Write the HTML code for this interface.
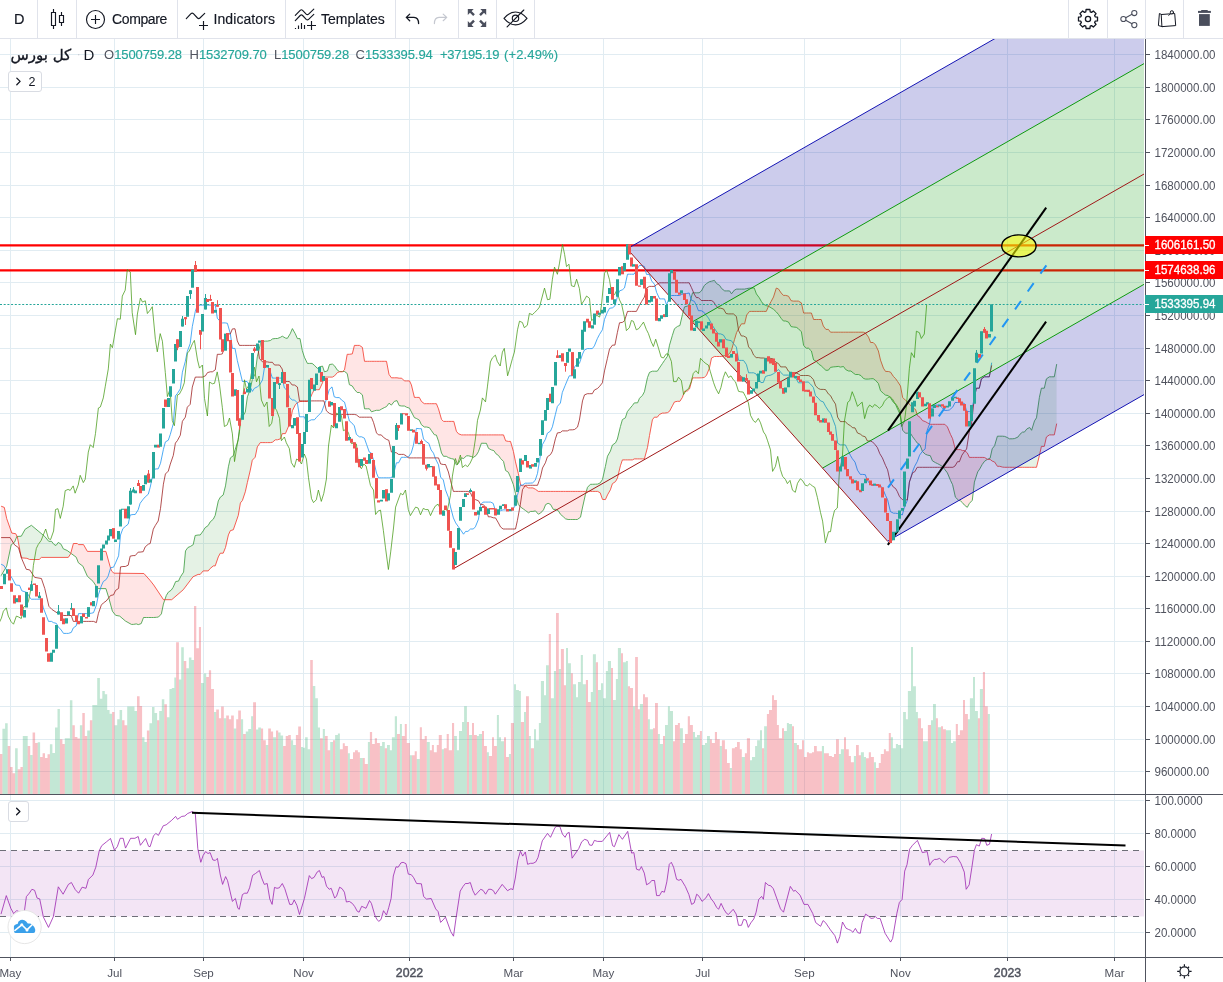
<!DOCTYPE html>
<html lang="en">
<head>
<meta charset="utf-8">
<title>Chart</title>
<style>
html,body{margin:0;padding:0;background:#fff;}
body{width:1223px;height:982px;overflow:hidden;position:relative;font-family:"Liberation Sans",sans-serif;color:#131722;}
.chart{position:absolute;left:0;top:0;display:block;}
.toolbar{position:absolute;left:0;top:0;width:1223px;height:38px;border-bottom:1px solid #e0e3eb;background:#fff;z-index:2;}
.toolbar .sep{position:absolute;top:0;width:1px;height:38px;background:#e0e3eb;}
.toolbar .lbl{position:absolute;top:0.5px;line-height:37px;font-size:14px;color:#131722;white-space:nowrap;-webkit-text-stroke:0.15px #131722;}
.toolbar svg{position:absolute;overflow:visible;}
.legend{position:absolute;left:0;top:39px;z-index:2;white-space:nowrap;}
.legend span{position:absolute;white-space:nowrap;}
.legend .v{position:static;color:#26a69a;letter-spacing:-0.09px;-webkit-text-stroke:0.15px #26a69a;}
.btn{position:absolute;box-sizing:border-box;border:1px solid #d9dce3;border-radius:3px;background:#fff;z-index:2;}
</style>
</head>
<body>
<svg class="chart" width="1223" height="982" viewBox="0 0 1223 982">
<defs><clipPath id="p1"><rect x="0" y="39" width="1144" height="755"/></clipPath><clipPath id="p2"><rect x="0" y="795" width="1144" height="162"/></clipPath></defs>
<g stroke="#e1ecf2" stroke-width="1" shape-rendering="crispEdges"><line x1="10.5" y1="39" x2="10.5" y2="794"/><line x1="10.5" y1="795" x2="10.5" y2="957"/><line x1="114.5" y1="39" x2="114.5" y2="794"/><line x1="114.5" y1="795" x2="114.5" y2="957"/><line x1="203.5" y1="39" x2="203.5" y2="794"/><line x1="203.5" y1="795" x2="203.5" y2="957"/><line x1="303.5" y1="39" x2="303.5" y2="794"/><line x1="303.5" y1="795" x2="303.5" y2="957"/><line x1="409.5" y1="39" x2="409.5" y2="794"/><line x1="409.5" y1="795" x2="409.5" y2="957"/><line x1="513.5" y1="39" x2="513.5" y2="794"/><line x1="513.5" y1="795" x2="513.5" y2="957"/><line x1="603.5" y1="39" x2="603.5" y2="794"/><line x1="603.5" y1="795" x2="603.5" y2="957"/><line x1="702.5" y1="39" x2="702.5" y2="794"/><line x1="702.5" y1="795" x2="702.5" y2="957"/><line x1="804.5" y1="39" x2="804.5" y2="794"/><line x1="804.5" y1="795" x2="804.5" y2="957"/><line x1="900.5" y1="39" x2="900.5" y2="794"/><line x1="900.5" y1="795" x2="900.5" y2="957"/><line x1="1007.5" y1="39" x2="1007.5" y2="794"/><line x1="1007.5" y1="795" x2="1007.5" y2="957"/><line x1="1114.5" y1="39" x2="1114.5" y2="794"/><line x1="1114.5" y1="795" x2="1114.5" y2="957"/><line x1="0" y1="54.5" x2="1144" y2="54.5"/><line x1="0" y1="87.5" x2="1144" y2="87.5"/><line x1="0" y1="119.5" x2="1144" y2="119.5"/><line x1="0" y1="152.5" x2="1144" y2="152.5"/><line x1="0" y1="185.5" x2="1144" y2="185.5"/><line x1="0" y1="217.5" x2="1144" y2="217.5"/><line x1="0" y1="250.5" x2="1144" y2="250.5"/><line x1="0" y1="282.5" x2="1144" y2="282.5"/><line x1="0" y1="315.5" x2="1144" y2="315.5"/><line x1="0" y1="348.5" x2="1144" y2="348.5"/><line x1="0" y1="380.5" x2="1144" y2="380.5"/><line x1="0" y1="413.5" x2="1144" y2="413.5"/><line x1="0" y1="445.5" x2="1144" y2="445.5"/><line x1="0" y1="478.5" x2="1144" y2="478.5"/><line x1="0" y1="511.5" x2="1144" y2="511.5"/><line x1="0" y1="543.5" x2="1144" y2="543.5"/><line x1="0" y1="576.5" x2="1144" y2="576.5"/><line x1="0" y1="608.5" x2="1144" y2="608.5"/><line x1="0" y1="641.5" x2="1144" y2="641.5"/><line x1="0" y1="673.5" x2="1144" y2="673.5"/><line x1="0" y1="706.5" x2="1144" y2="706.5"/><line x1="0" y1="739.5" x2="1144" y2="739.5"/><line x1="0" y1="771.5" x2="1144" y2="771.5"/><line x1="0" y1="800.5" x2="1144" y2="800.5"/><line x1="0" y1="833.5" x2="1144" y2="833.5"/><line x1="0" y1="866.5" x2="1144" y2="866.5"/><line x1="0" y1="899.5" x2="1144" y2="899.5"/><line x1="0" y1="932.5" x2="1144" y2="932.5"/></g>
<g clip-path="url(#p1)">
<path d="M2.4 728.8H5.1V794H2.4ZM5.1 723.3H7.7V794H5.1ZM15.1 748.2H17.7V794H15.1ZM22.8 736.1H25.3V794H22.8ZM25.3 736.1H27.7V794H25.3ZM30.2 754.9H32.6V794H30.2ZM37.7 742.3H40.1V794H37.7ZM49.9 744.3H52.4V794H49.9ZM52.4 752.9H55V794H52.4ZM55 727.4H57.5V794H55ZM57.5 709H59.9V794H57.5ZM64.8 738.2H67.5V794H64.8ZM67.5 738.2H69.9V794H67.5ZM69.9 700.3H72.4V794H69.9ZM79.9 725.3H82.3V794H79.9ZM87.2 730.4H89.9V794H87.2ZM92.3 705H94.8V794H92.3ZM94.8 705H97.2V794H94.8ZM97.2 678.1H99.9V794H97.2ZM99.9 698.8H102.3V794H99.9ZM102.3 691.1H104.8V794H102.3ZM104.8 694.2H107.2V794H104.8ZM107.2 710.1H109.6V794H107.2ZM109.6 713.7H112.1V794H109.6ZM114.5 725.3H117.2V794H114.5ZM117.2 719.2H119.6V794H117.2ZM119.6 710.1H122.1V794H119.6ZM127.2 706.4H129.6V794H127.2ZM129.6 706.4H132.1V794H129.6ZM132.1 706.4H134.5V794H132.1ZM134.5 711.1H137V794H134.5ZM142.1 737.2H144.5V794H142.1ZM144.5 742.1H146.9V794H144.5ZM149.4 723.3H150V794H149.4ZM150 723.3H152V794H150ZM152 707H154.5V794H152ZM154.5 713.1H157.1V794H154.5ZM159.2 711.1H161.8V794H159.2ZM161.8 699.3H164.3V794H161.8ZM166.9 717.2H169.4V794H166.9ZM169.4 689.1H171.8V794H169.4ZM171.8 688H174.3V794H171.8ZM174.3 677.4H176.1V794H174.3ZM178.9 679.5H181.2V794H178.9ZM181.2 647.3H183.8V794H181.2ZM186.3 668.3H188.9V794H186.3ZM188.9 657.5H191.4V794H188.9ZM191.4 660.1H194V794H191.4ZM201 682.9H203.8V794H201ZM203.8 673.4H206.2V794H203.8ZM214 712.1H216.2V794H214ZM223.8 718.2H226.2V794H223.8ZM233.8 728.4H236.2V794H233.8ZM240.9 719.2H243.1V794H240.9ZM245.8 731.5H248.2V794H245.8ZM248.2 729H251.1V794H248.2ZM251.1 716.2H253.1V794H251.1ZM256 729.4H258.2V794H256ZM258.2 727.4H260.9V794H258.2ZM265.8 745.1H268.2V794H265.8ZM273.1 737.2H276V794H273.1ZM278.2 732.5H280.6V794H278.2ZM280.6 735.5H283.1V794H280.6ZM290.8 740.2H293.1V794H290.8ZM293.1 745.1H295.9V794H293.1ZM301 747.1H303.1V794H301ZM303.1 747.8H305.1V794H303.1ZM305.1 737.2H307.7V794H305.1ZM307.7 749.2H310.2V794H307.7ZM312.8 686H315.3V794H312.8ZM315.3 698.2H317.9V794H315.3ZM317.9 727.4H320V794H317.9ZM322.8 729H324.9V794H322.8ZM330.2 742.1H333V794H330.2ZM335.1 735.1H337.9V794H335.1ZM337.9 733.5H339.9V794H337.9ZM347.9 753.3H349.9V794H347.9ZM359.9 757.9H362.8V794H359.9ZM367.9 742.1H369.9V794H367.9ZM379.9 746.1H382.1V794H379.9ZM382.1 742.1H384.8V794H382.1ZM387 745.1H389.9V794H387ZM389.9 750.2H391.9V794H389.9ZM391.9 737.2H394.8V794H391.9ZM394.8 716.2H397V794H394.8ZM399.9 724.1H401.9V794H399.9ZM409.9 755.3H411.9V794H409.9ZM416.8 759H419.8V794H416.8ZM426.8 742.1H429.8V794H426.8ZM441.8 749.2H443.9V794H441.8ZM454.1 736.1H456.9V794H454.1ZM456.9 750.2H459V794H456.9ZM459 731H462V794H459ZM462 722.1H464.1V794H462ZM464.1 706.2H466.9V794H464.1ZM469 735.1H472V794H469ZM476.9 736.1H478.9V794H476.9ZM478.9 734.1H482V794H478.9ZM486.9 752.2H488.9V794H486.9ZM496.9 715.1H498.9V794H496.9ZM498.9 737.2H501V794H498.9ZM501 741.2H504V794H501ZM508.9 754.1H510.9V794H508.9ZM514 684.2H516V794H514ZM516 690.1H518.9V794H516ZM518.9 691.1H520.9V794H518.9ZM524 712.1H526V794H524ZM528.9 736.1H530.9V794H528.9ZM534 729.2H536V794H534ZM536 740.2H538.9V794H536ZM538.9 723.1H540.9V794H538.9ZM540.9 681.1H544V794H540.9ZM544 695.2H546V794H544ZM546 665.2H548.8V794H546ZM550.9 698.2H553.9V794H550.9ZM553.9 671.1H556V794H553.9ZM558.8 669.1H560.9V794H558.8ZM566 648.1H568V794H566ZM568 663.2H570.9V794H568ZM572.9 684.2H576V794H572.9ZM576 697.2H578V794H576ZM578 682.1H580.8V794H578ZM580.8 655H582.9V794H580.8ZM582.9 684.2H585.9V794H582.9ZM590.8 692.1H592.9V794H590.8ZM592.9 654.2H595.9V794H592.9ZM598 690.1H600V794H598ZM600 690.1H601V794H600ZM601 683.2H603.1V794H601ZM603.1 698.2H605.9V794H603.1ZM605.9 671.1H607.9V794H605.9ZM607.9 661.1H611V794H607.9ZM613 700.1H615.9V794H613ZM615.9 679.1H617.9V794H615.9ZM617.9 648.1H621V794H617.9ZM623 662.2H625.9V794H623ZM625.9 661.1H627.9V794H625.9ZM633 706.2H635.1V794H633ZM639.9 704.1H643V794H639.9ZM647.9 719.2H649.9V794H647.9ZM649.9 729.2H653V794H649.9ZM657.9 734.1H659.9V794H657.9ZM659.9 744.1H663V794H659.9ZM665 725.1H667.9V794H665ZM667.9 706.2H669.9V794H667.9ZM669.9 711.1H673V794H669.9ZM679.9 728.2H682.9V794H679.9ZM692.9 732.1H695V794H692.9ZM695 737.2H697V794H695ZM697 735.1H699.9V794H697ZM701.9 745.1H705V794H701.9ZM705 743.1H707V794H705ZM707 736.1H709.9V794H707ZM719.8 746.1H721.9V794H719.8ZM729.8 768.1H731.9V794H729.8ZM741.8 757.1H744.9V794H741.8ZM750 760.2H752V794H750ZM752 757.1H755.1V794H752ZM755.1 746.1H757.1V794H755.1ZM757.1 740.2H760V794H757.1ZM760 730.2H762V794H760ZM764.1 726.2H766.9V794H764.1ZM784 731H786.9V794H784ZM786.9 723.1H788.9V794H786.9ZM788.9 724.1H792V794H788.9ZM794 743.1H796.9V794H794ZM821.9 746.1H824V794H821.9ZM838.9 754.1H840.9V794H838.9ZM840.9 749.2H844V794H840.9ZM853.9 756.1H856V794H853.9ZM860.9 752.2H863.9V794H860.9ZM863.9 757.1H866V794H863.9ZM873.9 762.2H876V794H873.9ZM890.8 737.2H892.9V794H890.8ZM892.9 748.2H895.9V794H892.9ZM895.9 744.1H898V794H895.9ZM898 745.1H900V794H898ZM900 745.1H901V794H900ZM901 748.2H903.1V794H901ZM903.1 712.1H905.9V794H903.1ZM905.9 719.2H907.9V794H905.9ZM907.9 691.1H911V794H907.9ZM911 647.1H913V794H911ZM913 686.2H915.9V794H913ZM915.9 712.1H917.9V794H915.9ZM923 741.2H925.9V794H923ZM925.9 741.2H927.9V794H925.9ZM931 720.2H933V794H931ZM933 704.1H935.9V794H933ZM937.9 727.2H941V794H937.9ZM945.9 730.2H947.9V794H945.9ZM947.9 730.2H951V794H947.9ZM951 743.1H953V794H951ZM953 741.2H955.8V794H953ZM967.9 719.2H969.9V794H967.9ZM969.9 698.2H973V794H969.9ZM973 677H975V794H973ZM975 711.1H977.9V794H975ZM979.9 689.1H982.9V794H979.9ZM987.8 714.1H989.9V794H987.8Z" fill="rgba(83,185,135,0.35)"/>
<path d="M0 753.9H2.4V794H0ZM7.7 746.1H10.2V794H7.7ZM10.2 767.1H12.6V794H10.2ZM12.6 773.2H15.1V794H12.6ZM17.7 769.2H20.4V794H17.7ZM20.4 767.1H22.8V794H20.4ZM27.7 746.1H30.2V794H27.7ZM32.6 732.5H35.1V794H32.6ZM35.1 743.1H37.7V794H35.1ZM40.1 756.9H42.6V794H40.1ZM42.6 753.3H45V794H42.6ZM45 757.9H47.5V794H45ZM47.5 754.3H49.9V794H47.5ZM59.9 739.2H62.4V794H59.9ZM62.4 744.1H64.8V794H62.4ZM72.4 725.3H74.8V794H72.4ZM74.8 737H77.4V794H74.8ZM77.4 738.6H79.9V794H77.4ZM82.3 713.1H84.8V794H82.3ZM84.8 736.1H87.2V794H84.8ZM89.9 720.2H92.3V794H89.9ZM112.1 712.1H114.5V794H112.1ZM122.1 720.2H124.5V794H122.1ZM124.5 725.3H127.2V794H124.5ZM137 696.2H139.6V794H137ZM139.6 706H142.1V794H139.6ZM146.9 730.4H149.4V794H146.9ZM157.1 720.2H159.2V794H157.1ZM164.3 704.3H166.9V794H164.3ZM176.1 642.2H178.9V794H176.1ZM183.8 661.1H186.3V794H183.8ZM194 606.1H196.3V794H194ZM196.3 648.3H198.9V794H196.3ZM198.9 627.1H201V794H198.9ZM206.2 677H208.9V794H206.2ZM208.9 670.3H211.1V794H208.9ZM211.1 689.1H214V794H211.1ZM216.2 709.4H218.9V794H216.2ZM218.9 718.2H221.1V794H218.9ZM221.1 706.4H223.8V794H221.1ZM226.2 715.6H228.9V794H226.2ZM228.9 719.2H231.1V794H228.9ZM231.1 715.6H233.8V794H231.1ZM236.2 719.2H238.2V794H236.2ZM238.2 710.5H240.9V794H238.2ZM243.1 734.1H245.8V794H243.1ZM253.1 702.3H256V794H253.1ZM260.9 728.4H263.1V794H260.9ZM263.1 740.2H265.8V794H263.1ZM268.2 728.4H270.9V794H268.2ZM270.9 731.5H273.1V794H270.9ZM276 730.4H278.2V794H276ZM283.1 746.1H285.7V794H283.1ZM285.7 736.1H288.2V794H285.7ZM288.2 735.1H290.8V794H288.2ZM295.9 735.1H298.2V794H295.9ZM298.2 726.4H300V794H298.2ZM300 726.4H301V794H300ZM310.2 660.1H312.8V794H310.2ZM320 738.2H322.8V794H320ZM324.9 736.1H327.7V794H324.9ZM327.7 750.2H330.2V794H327.7ZM333 740.2H335.1V794H333ZM339.9 749.2H342.8V794H339.9ZM342.8 743.3H344.8V794H342.8ZM344.8 746.1H347.9V794H344.8ZM349.9 759H353V794H349.9ZM353 752.2H355V794H353ZM355 750.2H357.9V794H355ZM357.9 752.2H359.9V794H357.9ZM362.8 757.9H364.8V794H362.8ZM364.8 764.1H367.9V794H364.8ZM369.9 732.1H372.1V794H369.9ZM372.1 744.1H374.8V794H372.1ZM374.8 738.2H377V794H374.8ZM377 743.1H379.9V794H377ZM384.8 748.2H387V794H384.8ZM397 734.1H399.9V794H397ZM401.9 736.1H404.8V794H401.9ZM404.8 724.1H406.8V794H404.8ZM406.8 743.1H409.9V794H406.8ZM411.9 755.3H414.7V794H411.9ZM414.7 751.2H416.8V794H414.7ZM419.8 727.2H421.9V794H419.8ZM421.9 739.2H424.7V794H421.9ZM424.7 736.1H426.8V794H424.7ZM429.8 750.2H431.9V794H429.8ZM431.9 745.1H433.9V794H431.9ZM433.9 752.2H436.8V794H433.9ZM436.8 745.1H438.8V794H436.8ZM438.8 735.1H441.8V794H438.8ZM443.9 748.2H446.7V794H443.9ZM446.7 734.1H448.8V794H446.7ZM448.8 750.2H450V794H448.8ZM450 750.2H452V794H450ZM452 723.1H454.1V794H452ZM466.9 722.1H469V794H466.9ZM472 723.1H474V794H472ZM474 735.1H476.9V794H474ZM482 731H484V794H482ZM484 746.1H486.9V794H484ZM488.9 756.1H492V794H488.9ZM492 737.2H494V794H492ZM494 746.1H496.9V794H494ZM504 737.2H506V794H504ZM506 757.1H508.9V794H506ZM510.9 723.1H514V794H510.9ZM520.9 722.1H524V794H520.9ZM526 696.2H528.9V794H526ZM530.9 748.2H534V794H530.9ZM548.8 634H550.9V794H548.8ZM556 613H558.8V794H556ZM560.9 649.1H563.9V794H560.9ZM563.9 685.2H566V794H563.9ZM570.9 673.2H572.9V794H570.9ZM585.9 680.1H588V794H585.9ZM588 702.1H590.8V794H588ZM595.9 662.2H598V794H595.9ZM611 668.1H613V794H611ZM621 653.2H623V794H621ZM627.9 686.2H630V794H627.9ZM630 688H633V794H630ZM635.1 657.1H637.9V794H635.1ZM637.9 709.2H639.9V794H637.9ZM643 694.2H645V794H643ZM645 697.2H647.9V794H645ZM653 728.2H655V794H653ZM655 703.1H657.9V794H655ZM663 736.1H665V794H663ZM673 741.2H675V794H673ZM675 725.1H677.9V794H675ZM677.9 723.1H679.9V794H677.9ZM682.9 743.1H685V794H682.9ZM685 734.1H687.8V794H685ZM687.8 716.2H689.9V794H687.8ZM689.9 725.1H692.9V794H689.9ZM699.9 731H701.9V794H699.9ZM709.9 739.2H711.9V794H709.9ZM711.9 743.1H714.9V794H711.9ZM714.9 732.1H717V794H714.9ZM717 739.2H719.8V794H717ZM721.9 740.2H724.9V794H721.9ZM724.9 749.2H727V794H724.9ZM727 763H729.8V794H727ZM731.9 748.2H734.9V794H731.9ZM734.9 747.1H737V794H734.9ZM737 742.1H739.8V794H737ZM739.8 749.2H741.8V794H739.8ZM744.9 753.3H746.9V794H744.9ZM746.9 738.2H750V794H746.9ZM762 748.2H764.1V794H762ZM766.9 714.1H769V794H766.9ZM769 710.1H772V794H769ZM772 695.2H774V794H772ZM774 700.1H776.9V794H774ZM776.9 725.1H778.9V794H776.9ZM778.9 738.2H782V794H778.9ZM782 728.2H784V794H782ZM792 726.2H794V794H792ZM796.9 745.1H798.9V794H796.9ZM798.9 749.2H802V794H798.9ZM802 740.2H804V794H802ZM804 757.1H806.9V794H804ZM806.9 752.2H808.9V794H806.9ZM808.9 753.3H812V794H808.9ZM812 752.2H814V794H812ZM814 746.1H816.8V794H814ZM816.8 751.2H818.9V794H816.8ZM818.9 751.2H821.9V794H818.9ZM824 753.3H826.8V794H824ZM826.8 753.3H828.9V794H826.8ZM828.9 756.1H831.9V794H828.9ZM831.9 757.1H834V794H831.9ZM834 754.1H836V794H834ZM836 739.2H838.9V794H836ZM844 737.2H846V794H844ZM846 749.2H848.8V794H846ZM848.8 756.1H850.9V794H848.8ZM850.9 762.2H853.9V794H850.9ZM856 745.1H858.8V794H856ZM858.8 755.3H860.9V794H858.8ZM866 758.2H868.8V794H866ZM868.8 752.2H870.9V794H868.8ZM870.9 757.1H873.9V794H870.9ZM876 768.1H878.8V794H876ZM878.8 763H880.8V794H878.8ZM880.8 754.1H883.9V794H880.8ZM883.9 749.2H885.9V794H883.9ZM885.9 751.2H888.8V794H885.9ZM888.8 733.1H890.8V794H888.8ZM917.9 718.2H921V794H917.9ZM921 728.2H923V794H921ZM927.9 725.1H931V794H927.9ZM935.9 718.2H937.9V794H935.9ZM941 726.2H943V794H941ZM943 729.2H945.9V794H943ZM955.8 724.1H957.9V794H955.8ZM957.9 735.1H959.9V794H957.9ZM959.9 730.2H963V794H959.9ZM963 700.1H965V794H963ZM965 714.1H967.9V794H965ZM977.9 718.2H979.9V794H977.9ZM982.9 672.1H985V794H982.9ZM985 706.2H987.8V794H985Z" fill="rgba(235,77,92,0.35)"/>
<line x1="0" y1="245.4" x2="1144" y2="245.4" stroke="#ff0000" stroke-width="2.2"/>
<line x1="0" y1="270.4" x2="1144" y2="270.4" stroke="#ff0000" stroke-width="2.2"/>
<polygon points="1.1,575.7 1.6,574.9 2.1,574 2.6,573.2 3.1,572.3 3.6,571.5 4.1,570.6 4.6,569.8 5.1,568.9 5.6,568.1 6.1,567.2 6.6,566.4 7.1,564.3 7.6,561.9 8.1,559.6 8.6,557.2 9.1,554.8 9.6,552.5 10.1,550.1 10.6,547.7 11.1,545.4 11.6,544.6 12.1,544.2 12.6,543.7 13.1,543.3 13.6,542.9 14.1,542.5 14.6,542.1 15.1,540.8 15.6,539.6 16.1,538.3 16.6,537 17.1,536.5 17.6,536.4 17.6,538.1 17.1,536.4 16.6,535.4 16.1,534.5 15.6,533.7 15.1,533.6 14.6,533.5 14.1,533.5 13.6,533.4 13.1,533.3 12.6,533.2 12.1,533.1 11.6,532.5 11.1,531.1 10.6,529.7 10.1,528.3 9.6,526.8 9.1,525.4 8.6,524 8.1,522.6 7.6,521.2 7.1,519.7 6.6,518.1 6.1,515.8 5.6,513.5 5.1,511.1 4.6,508.8 4.1,507.3 3.6,507.1 3.1,506.9 2.6,506.8 2.1,506.6 1.6,506.4 1.1,506.2" fill="rgba(255,0,0,0.1)"/>
<polygon points="17.6,536.4 18.1,536.4 18.6,536.4 19.1,536.3 19.6,536.3 20.1,536.3 20.6,536.2 21.1,536.2 21.6,535.7 22.1,534.8 22.6,533.9 23.1,533 23.6,532.1 24.1,531.2 24.6,530.3 25.1,529.4 25.6,528.9 26.1,528.6 26.6,528.3 27.1,528 27.6,527.7 28.1,527.4 28.6,527.1 29.1,526.7 29.6,526.4 30.1,526.1 30.6,525.8 31.1,525.5 31.6,525.5 32.1,525.9 32.6,526.3 33.1,526.7 33.6,527.1 34.1,527.6 34.6,528 35.1,528.4 35.6,528.8 36.1,529.2 36.6,529.6 37.1,530.1 37.6,530.5 38.1,530.9 38.6,531.3 39.1,531.7 39.6,532.2 40.1,532.6 40.6,533 41.1,533.4 41.6,533.8 42.1,534.2 42.6,534.7 43.1,535.1 43.6,535.5 44.1,535.9 44.6,536.3 45.1,536.9 45.6,537.5 46.1,538.1 46.6,538.7 47.1,539.3 47.6,539.9 48.1,540.6 48.6,541.2 49.1,541.3 49.6,541.3 50.1,541.3 50.6,541.3 51.1,541.3 51.6,541.4 52.1,542.1 52.6,542.7 53.1,543.4 53.6,544 54.1,544.5 54.6,544.7 55.1,545 55.6,545.3 56.1,545.4 56.6,544.7 57.1,544 57.6,543.3 58.1,542.7 58.6,542.6 59.1,542.9 59.6,543.3 60.1,543.6 60.6,544 61.1,544.3 61.6,545.3 62.1,546.3 62.6,547.4 63.1,548.4 63.6,548.9 64.1,549.1 64.6,549.4 65.1,549.6 65.6,549.8 66.1,550 66.6,550.2 67.1,550.5 67.6,550.8 68.1,551.2 68.6,551.6 69.1,551.9 69.6,552.3 70.1,552.7 70.6,553.1 71.1,553.4 71.1,552 70.6,553.9 70.1,554.7 69.6,555.4 69.1,556.2 68.6,556.9 68.1,557.4 67.6,557.4 67.1,557.4 66.6,557.4 66.1,557.4 65.6,557.4 65.1,557.4 64.6,557.4 64.1,557.4 63.6,557.4 63.1,557.4 62.6,557.4 62.1,557.4 61.6,557.4 61.1,557.4 60.6,557.4 60.1,557.4 59.6,557.4 59.1,557.4 58.6,557.4 58.1,557.4 57.6,557.4 57.1,557.4 56.6,557.4 56.1,557.4 55.6,557.4 55.1,557.4 54.6,557.4 54.1,557.4 53.6,557.4 53.1,557.4 52.6,557.4 52.1,557.4 51.6,557.4 51.1,557.4 50.6,557.4 50.1,557.4 49.6,557.4 49.1,557.4 48.6,557.4 48.1,557.4 47.6,557.4 47.1,557.4 46.6,557.4 46.1,557.4 45.6,557.4 45.1,557.4 44.6,557.4 44.1,557.4 43.6,557.4 43.1,557.4 42.6,557.4 42.1,557.4 41.6,557.4 41.1,557.7 40.6,558.2 40.1,558.6 39.6,559.1 39.1,559.5 38.6,559.5 38.1,559.5 37.6,559.5 37.1,559.5 36.6,559.5 36.1,559.5 35.6,559.5 35.1,559.5 34.6,559.5 34.1,559.5 33.6,559.5 33.1,559.5 32.6,559.5 32.1,559.5 31.6,559.5 31.1,559.5 30.6,559.5 30.1,559.5 29.6,559.5 29.1,559.2 28.6,559 28.1,558.8 27.6,558.6 27.1,558.4 26.6,558.3 26.1,558.2 25.6,558.2 25.1,558.1 24.6,558.1 24.1,558 23.6,558 23.1,558 22.6,557.9 22.1,557.9 21.6,557.8 21.1,556.7 20.6,554.1 20.1,551.4 19.6,548.7 19.1,546.1 18.6,543.4 18.1,540.7 17.6,538.1" fill="rgba(0,128,0,0.1)"/>
<polygon points="71.1,553.4 71.6,553.8 72.1,554.2 72.6,554.6 73.1,554.9 73.6,555.3 74.1,555.7 74.6,556 75.1,556.4 75.6,556.8 76.1,557.1 76.6,558.2 77.1,559.5 77.6,560.8 78.1,562 78.6,563 79.1,563.3 79.6,563.7 80.1,564.1 80.6,564.5 81.1,564.8 81.6,565.2 82.1,565.6 82.6,566 83.1,566.6 83.6,567.8 84.1,568.9 84.6,570 85.1,571.1 85.6,572.3 86.1,573.4 86.6,574.5 87.1,575.6 87.6,576.5 88.1,576.9 88.6,577.4 89.1,577.8 89.6,578.3 90.1,578.7 90.6,579.2 91.1,579.6 91.6,580 92.1,580.5 92.6,580.9 93.1,581.5 93.6,582.2 94.1,583 94.6,583.7 95.1,584.5 95.6,585.2 96.1,586 96.6,586.6 97.1,587.1 97.6,587.6 98.1,588.1 98.6,588.6 99.1,588.6 99.6,588.6 100.1,588.6 100.6,588.6 101.1,588.6 101.6,588.6 102.1,588.6 102.6,588.6 103.1,588.6 103.6,588.6 104.1,588.6 104.6,588.6 105.1,588.6 105.6,588.6 106.1,589.2 106.6,590.8 107.1,592.4 107.6,594 108.1,595.6 108.6,597.2 109.1,599 109.6,600.8 110.1,602.7 110.6,604.5 111.1,606.4 111.6,608.2 112.1,610.1 112.6,611.5 113.1,612.1 113.6,612.7 114.1,613.4 114.6,614 115.1,614.7 115.6,615.3 116.1,615.4 116.6,615.5 117.1,615.6 117.6,615.7 118.1,615.8 118.6,615.9 119.1,616 119.6,616.1 120.1,616.4 120.6,616.9 121.1,617.3 121.6,617.7 122.1,618.2 122.6,618.6 123.1,619 123.6,619.5 124.1,619.9 124.6,620.3 125.1,620.7 125.6,621.1 126.1,621.4 126.6,621.7 127.1,622 127.6,622.2 128.1,622.5 128.6,622.8 129.1,623.1 129.6,623.4 130.1,623.7 130.6,623.9 131.1,624.2 131.6,624.4 132.1,624.4 132.6,624.4 133.1,624.4 133.6,624.4 134.1,624.3 134.6,624.2 135.1,624.1 135.6,624 136.1,623.9 136.6,624 137.1,624.2 137.6,624.4 138.1,624.5 138.6,624.5 139.1,624.3 139.6,624.2 140.1,624 140.6,623.8 141.1,623.6 141.6,622.5 142.1,621.2 142.6,619.9 143.1,618.5 143.6,617.5 144.1,617.5 144.6,617.5 145.1,617.5 145.6,617.5 146.1,617.5 146.6,617.5 147.1,617.5 147.6,617.5 148.1,617.5 148.6,617.5 149.1,617.5 149.6,617.5 150.1,617.5 150.6,617.5 151.1,617.5 151.6,617.5 152.1,617.5 152.6,617.5 153.1,617.5 153.6,617.5 154.1,617.4 154.6,617.4 155.1,617.4 155.6,617.3 156.1,617.3 156.6,617.3 157.1,617.2 157.6,617.1 158.1,617.1 158.6,616.9 159.1,616.3 159.6,615.8 160.1,615.3 160.6,614.7 161.1,614.2 161.6,612.9 162.1,610.4 162.6,608 163.1,605.6 163.6,603.5 164.1,602 164.6,600.6 165.1,599.1 165.1,599.7 164.6,599.7 164.1,599.7 163.6,599.7 163.1,599.1 162.6,598.4 162.1,597.6 161.6,596.9 161.1,596.1 160.6,595.4 160.1,594.6 159.6,593.9 159.1,593.1 158.6,592.4 158.1,591.6 157.6,590.9 157.1,590.1 156.6,589.4 156.1,588.6 155.6,587.9 155.1,587.1 154.6,586.4 154.1,585.6 153.6,584.9 153.1,584.2 152.6,583.6 152.1,583 151.6,582.3 151.1,581.7 150.6,581.1 150.1,580.4 149.6,579.9 149.1,579.3 148.6,578.7 148.1,578.2 147.6,577.6 147.1,577.1 146.6,576.5 146.1,576 145.6,575.4 145.1,574.8 144.6,574.3 144.1,573.7 143.6,573.5 143.1,573.5 142.6,573.5 142.1,573.5 141.6,573.5 141.1,573.5 140.6,573.5 140.1,573.5 139.6,573.5 139.1,573.5 138.6,573.4 138.1,573.4 137.6,573.4 137.1,573.4 136.6,573.4 136.1,573.4 135.6,573.4 135.1,573.4 134.6,573.4 134.1,573.4 133.6,573.4 133.1,573.4 132.6,573.4 132.1,573.4 131.6,573.4 131.1,573.4 130.6,573.4 130.1,573.4 129.6,573.4 129.1,573.4 128.6,573.3 128.1,573.3 127.6,573.3 127.1,573.3 126.6,573.3 126.1,573.3 125.6,573.3 125.1,573.3 124.6,573.3 124.1,573.3 123.6,573.3 123.1,573.3 122.6,573.3 122.1,573.3 121.6,573.3 121.1,573.3 120.6,573.3 120.1,573.3 119.6,573.3 119.1,573.3 118.6,573.2 118.1,573.2 117.6,573.2 117.1,573.2 116.6,573.2 116.1,573.2 115.6,573.2 115.1,573.2 114.6,573.2 114.1,573.2 113.6,572.8 113.1,572.4 112.6,572 112.1,571.5 111.6,571.1 111.1,569.7 110.6,568.1 110.1,566.5 109.6,564.8 109.1,563 108.6,561.1 108.1,559.3 107.6,557.5 107.1,555.7 106.6,553.9 106.1,552.1 105.6,551.4 105.1,551.4 104.6,551.4 104.1,551.4 103.6,551.4 103.1,551.4 102.6,551.4 102.1,551.4 101.6,551.4 101.1,551.4 100.6,551.4 100.1,551.4 99.6,551.4 99.1,551.4 98.6,551.4 98.1,551.4 97.6,551.4 97.1,551.4 96.6,551.4 96.1,551.4 95.6,551.4 95.1,551.4 94.6,551.4 94.1,551.4 93.6,551.4 93.1,551.4 92.6,551.4 92.1,551.4 91.6,551.4 91.1,551.4 90.6,551.4 90.1,551.4 89.6,551.4 89.1,551.4 88.6,551.4 88.1,551.4 87.6,551.4 87.1,550.9 86.6,550 86.1,549.1 85.6,548.3 85.1,547.4 84.6,546.5 84.1,545.6 83.6,544.8 83.1,544.6 82.6,544.6 82.1,544.6 81.6,544.6 81.1,544.6 80.6,544.6 80.1,544.6 79.6,544.6 79.1,544.6 78.6,544.6 78.1,544.3 77.6,543.8 77.1,543.5 76.6,543.5 76.1,543.5 75.6,543.5 75.1,543.5 74.6,543.5 74.1,543.5 73.6,543.5 73.1,544.6 72.6,546.5 72.1,548.3 71.6,550.2 71.1,552" fill="rgba(255,0,0,0.1)"/>
<polygon points="165.1,599.1 165.6,597.6 166.1,596.1 166.6,595 167.1,594.2 167.6,593.4 168.1,592.6 168.6,592 169.1,591.7 169.6,591.4 170.1,591 170.6,590.7 171.1,590.3 171.6,589.6 172.1,588.9 172.6,588.2 173.1,587.4 173.6,586.3 174.1,585.1 174.6,584 175.1,582.9 175.6,581.7 176.1,581.4 176.6,581.4 177.1,581.3 177.6,581.2 178.1,581.1 178.6,580.8 179.1,579.8 179.6,578.7 180.1,577.6 180.6,576.6 181.1,575.8 181.6,575.1 182.1,574.3 182.6,573.6 183.1,572.8 183.6,572.1 184.1,566.5 184.6,560.9 185.1,555.4 185.6,550.8 186.1,550.1 186.6,549.4 187.1,548.7 187.6,547.9 188.1,547.4 188.6,547.2 189.1,547 189.6,546.8 190.1,546.6 190.6,546.3 191.1,546 191.6,545.7 192.1,545.4 192.6,545 193.1,544.7 193.6,542.8 194.1,540.6 194.6,538.3 195.1,536 195.6,535.5 196.1,535.4 196.6,535.3 197.1,535.2 197.6,535.1 198.1,535 198.6,535 199.1,535 199.6,535 200.1,535 200.6,534.5 201.1,533.8 201.6,533.1 202.1,532.4 202.6,531.8 203.1,531.1 203.6,530.2 204.1,529.4 204.6,528.5 205.1,527.7 205.6,527.3 206.1,527 206.6,526.6 207.1,526.2 207.6,525.9 208.1,525.5 208.6,524.7 209.1,523.8 209.6,522.9 210.1,522.1 210.6,521.5 211.1,521.1 211.6,520.7 212.1,520.3 212.6,519.8 213.1,519.4 213.6,518.6 214.1,517.6 214.6,516.6 215.1,515.6 215.6,513.5 216.1,511.2 216.6,508.8 217.1,506.5 217.6,504.2 218.1,501.9 218.6,500.4 219.1,499.4 219.6,498.5 220.1,497.6 220.6,497 221.1,496.6 221.6,496.2 222.1,495.8 222.6,495.5 223.1,495.1 223.6,493.4 224.1,491.4 224.6,489.4 225.1,487.5 225.6,485.2 226.1,481.9 226.6,478.6 227.1,475.3 227.6,472 228.1,468.8 228.6,465.9 229.1,463.7 229.6,461.5 230.1,459.3 230.6,457.8 231.1,457.4 231.6,457 232.1,456.6 232.6,456.2 233.1,455.9 233.6,454.7 234.1,453.1 234.6,451.5 235.1,449.9 235.6,448.3 236.1,446.7 236.6,445.1 237.1,443.4 237.6,441.8 238.1,440.2 238.6,436.7 239.1,431.9 239.6,427.1 240.1,422.3 240.6,419.2 241.1,418.6 241.6,418 242.1,417.4 242.6,416.7 243.1,415.8 243.6,415 244.1,414.1 244.6,413.2 245.1,412.4 245.6,409.8 246.1,406.2 246.6,402.6 247.1,399 247.6,396.3 248.1,395 248.6,393.7 249.1,392.4 249.6,391.1 250.1,389.8 250.6,387.8 251.1,385.3 251.6,382.9 252.1,380.4 252.6,378.8 253.1,377.9 253.6,376.9 254.1,376 254.6,375 255.1,374.1 255.6,370.6 256.1,366.6 256.6,362.5 257.1,358.4 257.6,355.5 258.1,353.4 258.6,351.3 259.1,349.2 259.6,347.1 260.1,345 260.6,343.8 261.1,343 261.6,342.2 262.1,341.5 262.6,341.3 263.1,341.3 263.6,341.3 264.1,341.2 264.6,341.2 265.1,341.2 265.6,341.1 266.1,341.1 266.6,341.1 267.1,341.1 267.6,341.1 268.1,341 268.6,340.9 269.1,340.8 269.6,340.7 270.1,340.6 270.6,340.3 271.1,340 271.6,339.6 272.1,339.2 272.6,338.9 273.1,338.8 273.6,338.7 274.1,338.6 274.6,338.6 275.1,338.5 275.6,338.5 276.1,338.5 276.6,338.5 277.1,338.5 277.6,338.4 278.1,338.2 278.6,338.1 279.1,337.9 279.6,337.7 280.1,337.5 280.6,337.3 281.1,337 281.6,336.7 282.1,336.4 282.6,336.4 283.1,336.7 283.6,337 284.1,337.3 284.6,337.5 285.1,337.8 285.6,338 286.1,338.1 286.6,338.2 287.1,338.4 287.6,337.9 288.1,337.1 288.6,336.3 289.1,335.6 289.6,334.8 290.1,334 290.6,332.9 291.1,331.7 291.6,330.5 292.1,329.3 292.6,329 293.1,329.9 293.6,330.8 294.1,331.7 294.6,332.6 295.1,333.4 295.6,334.5 296.1,335.6 296.6,336.8 297.1,338 297.6,338.6 298.1,338.6 298.6,338.6 299.1,338.6 299.6,338.6 300.1,339.1 300.6,341.7 301.1,344.4 301.6,347 302.1,349.6 302.6,351.6 303.1,353.1 303.6,354.7 304.1,356.2 304.6,357.6 305.1,358.6 305.6,359.7 306.1,360.7 306.6,361.8 307.1,362.8 307.6,363.4 308.1,363.4 308.6,363.4 309.1,363.4 309.6,363.4 310.1,363.4 310.6,363.4 311.1,363.4 311.6,363.4 312.1,363.4 312.6,363.8 313.1,364.2 313.6,364.6 314.1,365 314.6,365.5 315.1,366 315.6,366.5 316.1,367 316.6,367.6 317.1,368.1 317.6,368.2 318.1,367.8 318.6,367.5 319.1,367.1 319.6,366.8 320.1,366.7 320.6,366.6 321.1,366.4 321.6,366.3 322.1,366.2 322.6,366.4 323.1,367.9 323.6,369.4 324.1,370.9 324.6,371.7 325.1,371.6 325.6,371.4 326.1,371.3 326.6,371.2 327.1,371 327.6,370.6 328.1,369 328.6,367.4 329.1,365.8 329.6,364.5 330.1,364.4 330.6,364.4 331.1,364.3 331.6,364.2 332.1,364.2 332.6,364.3 333.1,364.7 333.6,365.1 334.1,365.5 334.6,366 335.1,366.7 335.6,367.5 336.1,368.2 336.6,369 337.1,369.7 337.6,370.3 338.1,370.6 338.6,370.9 339.1,371.3 339.6,371.5 340.1,371.5 340.6,371.5 341.1,371.5 341.6,371.5 342.1,371.5 342.6,371.5 343.1,371.5 343.1,371.1 342.6,371.6 342.1,371.8 341.6,371.8 341.1,371.8 340.6,371.8 340.1,371.8 339.6,371.8 339.1,372 338.6,372.1 338.1,372.3 337.6,372.5 337.1,372.9 336.6,373.5 336.1,374.1 335.6,374.6 335.1,375.2 334.6,375.7 334.1,376.1 333.6,376.4 333.1,376.7 332.6,377 332.1,377.1 331.6,377.1 331.1,377.1 330.6,377.1 330.1,377.1 329.6,377.1 329.1,377.1 328.6,377.1 328.1,377.1 327.6,377.1 327.1,377.1 326.6,377.1 326.1,377.1 325.6,377.1 325.1,377.1 324.6,377.1 324.1,378 323.6,379.5 323.1,381 322.6,382.5 322.1,383.7 321.6,384.7 321.1,385.8 320.6,386.9 320.1,388 319.6,389.1 319.1,389.7 318.6,389.7 318.1,389.7 317.6,389.7 317.1,389.7 316.6,389.7 316.1,389.7 315.6,389.7 315.1,389.7 314.6,389.7 314.1,390.1 313.6,391 313.1,391.9 312.6,392.9 312.1,393.8 311.6,395 311.1,396.2 310.6,397.4 310.1,398.6 309.6,399.8 309.1,400.4 308.6,400.8 308.1,401.1 307.6,401.4 307.1,401.5 306.6,401.5 306.1,401.5 305.6,401.5 305.1,401.5 304.6,401.5 304.1,401.5 303.6,401.5 303.1,401.5 302.6,401.5 302.1,401.5 301.6,401.5 301.1,401.5 300.6,401.5 300.1,401.5 299.6,401.7 299.1,401.9 298.6,402.1 298.1,402.4 297.6,402.6 297.1,403 296.6,403.5 296.1,404 295.6,404.5 295.1,405.2 294.6,406.2 294.1,407.2 293.6,408.2 293.1,409.3 292.6,410.3 292.1,412.3 291.6,414.9 291.1,417.5 290.6,420.1 290.1,422.5 289.6,423.7 289.1,424.9 288.6,426.1 288.1,427.3 287.6,428.5 287.1,429.7 286.6,430.8 286.1,432 285.6,433.2 285.1,433.6 284.6,433.6 284.1,433.6 283.6,433.6 283.1,433.6 282.6,433.6 282.1,434.2 281.6,435.5 281.1,436.8 280.6,438.2 280.1,439 279.6,439.1 279.1,439.3 278.6,439.4 278.1,439.6 277.6,439.7 277.1,439.8 276.6,439.8 276.1,439.8 275.6,439.8 275.1,439.9 274.6,440.4 274.1,440.8 273.6,441.2 273.1,441.7 272.6,442.1 272.1,442.3 271.6,442.4 271.1,442.5 270.6,442.6 270.1,442.6 269.6,442.6 269.1,442.6 268.6,442.6 268.1,442.6 267.6,442.6 267.1,442.6 266.6,442.6 266.1,442.6 265.6,442.6 265.1,442.6 264.6,442.6 264.1,442.6 263.6,442.6 263.1,442.6 262.6,442.6 262.1,442.6 261.6,442.6 261.1,442.6 260.6,442.6 260.1,442.9 259.6,443.6 259.1,444.3 258.6,445 258.1,445.7 257.6,446.4 257.1,447.8 256.6,450.3 256.1,452.8 255.6,455.2 255.1,457.3 254.6,457.8 254.1,458.3 253.6,458.8 253.1,459.3 252.6,459.8 252.1,461.1 251.6,463.6 251.1,466.1 250.6,468.6 250.1,470.9 249.6,473.1 249.1,475.2 248.6,477.3 248.1,479.4 247.6,481.5 247.1,483.7 246.6,486 246.1,488.2 245.6,490.5 245.1,492.4 244.6,493.9 244.1,495.4 243.6,496.9 243.1,498.4 242.6,499.9 242.1,500.9 241.6,501.5 241.1,502.1 240.6,502.7 240.1,504.7 239.6,507.6 239.1,510.6 238.6,513.5 238.1,515.9 237.6,517.3 237.1,518.8 236.6,520.2 236.1,521.6 235.6,523.1 235.1,524.5 234.6,526 234.1,527.5 233.6,528.9 233.1,529.9 232.6,530 232.1,530.1 231.6,530.3 231.1,530.4 230.6,530.5 230.1,531.2 229.6,532.3 229.1,533.4 228.6,534.4 228.1,536.2 227.6,538.4 227.1,540.5 226.6,542.7 226.1,544.9 225.6,547.1 225.1,548.5 224.6,549.8 224.1,551 223.6,552.2 223.1,553.2 222.6,553.2 222.1,553.2 221.6,553.2 221.1,553.2 220.6,553.2 220.1,553.6 219.6,554.5 219.1,555.4 218.6,556.3 218.1,557.5 217.6,558.9 217.1,560.4 216.6,561.8 216.1,563.3 215.6,564.7 215.1,565.9 214.6,565.9 214.1,565.9 213.6,565.9 213.1,566 212.6,566.4 212.1,566.9 211.6,567.3 211.1,567.7 210.6,568.2 210.1,568.6 209.6,569.2 209.1,569.8 208.6,570.4 208.1,570.9 207.6,570.9 207.1,570.9 206.6,570.9 206.1,570.9 205.6,570.9 205.1,570.9 204.6,570.9 204.1,570.9 203.6,570.9 203.1,571 202.6,571.6 202.1,572.1 201.6,572.7 201.1,573.3 200.6,573.9 200.1,574.4 199.6,574.4 199.1,574.4 198.6,574.4 198.1,574.4 197.6,574.6 197.1,574.8 196.6,575.1 196.1,575.3 195.6,575.6 195.1,575.8 194.6,576 194.1,576.3 193.6,576.5 193.1,576.8 192.6,577.3 192.1,578 191.6,578.7 191.1,579.3 190.6,580 190.1,580.6 189.6,581.3 189.1,582 188.6,582.6 188.1,583.3 187.6,584 187.1,584.6 186.6,585.3 186.1,586 185.6,586.6 185.1,587.3 184.6,587.9 184.1,588.6 183.6,589.3 183.1,589.9 182.6,590.3 182.1,590.7 181.6,591.2 181.1,591.6 180.6,592 180.1,592.5 179.6,592.9 179.1,593.3 178.6,593.8 178.1,594.2 177.6,594.6 177.1,595.1 176.6,595.5 176.1,595.9 175.6,596.3 175.1,596.8 174.6,597.2 174.1,597.6 173.6,598.1 173.1,598.5 172.6,598.9 172.1,599.4 171.6,599.7 171.1,599.7 170.6,599.7 170.1,599.7 169.6,599.7 169.1,599.7 168.6,599.7 168.1,599.7 167.6,599.7 167.1,599.7 166.6,599.7 166.1,599.7 165.6,599.7 165.1,599.7" fill="rgba(0,128,0,0.1)"/>
<polygon points="343.1,371.5 343.6,371.5 344.1,371.5 344.6,371.6 345.1,372 345.6,372.3 346.1,372.7 346.6,373.1 347.1,373.4 347.6,375.5 348.1,378.1 348.6,380.6 349.1,383.2 349.6,384.8 350.1,385 350.6,385.2 351.1,385.5 351.6,385.7 352.1,385.9 352.6,386.5 353.1,387.3 353.6,388.1 354.1,388.9 354.6,389.6 355.1,390.2 355.6,390.7 356.1,391.3 356.6,391.8 357.1,392.4 357.6,392.5 358.1,392.5 358.6,392.5 359.1,392.5 359.6,392.6 360.1,393 360.6,393.4 361.1,393.9 361.6,394.3 362.1,394.7 362.6,396.3 363.1,399.6 363.6,402.9 364.1,406.2 364.6,408.8 365.1,408.8 365.6,408.8 366.1,408.8 366.6,408.8 367.1,408.8 367.6,408.8 368.1,408.8 368.6,408.8 369.1,408.8 369.6,409.1 370.1,409.8 370.6,410.5 371.1,411.2 371.6,411.8 372.1,411.6 372.6,411.4 373.1,411.3 373.6,411.1 374.1,410.9 374.6,410.8 375.1,410.6 375.6,410.5 376.1,410.4 376.6,410.3 377.1,410.3 377.6,410.3 378.1,410.3 378.6,410.3 379.1,410.3 379.6,410.2 380.1,409.9 380.6,409.6 381.1,409.3 381.6,409.1 382.1,408.8 382.6,408.5 383.1,408.2 383.6,408 384.1,407.7 384.6,407.5 385.1,407.2 385.6,407 386.1,406.8 386.6,406.4 387.1,405.8 387.6,405.1 388.1,404.4 388.6,403.7 389.1,403.3 389.6,403.7 390.1,404.1 390.6,404.5 391.1,404.9 391.6,404.9 392.1,404.2 392.6,403.6 393.1,403 393.6,402.3 394.1,401.7 394.6,401.3 395.1,401.2 395.6,401 396.1,400.9 396.6,400.7 397.1,400.9 397.6,402 398.1,403.1 398.6,404.2 399.1,405.4 399.6,405.6 400.1,405.7 400.6,405.8 401.1,405.9 401.6,406 402.1,406 402.6,406 403.1,406 403.6,406 404.1,406 404.6,406.1 405.1,406.4 405.6,406.7 406.1,406.9 406.6,407.2 407.1,407.4 407.6,407.6 408.1,407.7 408.6,407.9 409.1,408.1 409.6,408.4 410.1,409.4 410.6,410.3 411.1,411.3 411.6,412.2 412.1,413.2 412.6,414.2 413.1,415.2 413.6,416.1 414.1,417.1 414.6,417.7 415.1,417.9 415.6,418.1 416.1,418.3 416.6,418.5 417.1,418.8 417.6,419.1 418.1,419.4 418.6,419.7 419.1,419.9 419.6,420.7 420.1,421.8 420.6,422.9 421.1,424 421.6,424.8 422.1,425.2 422.6,425.6 423.1,426 423.6,426.4 424.1,426.8 424.6,427 425.1,427 425.6,427 426.1,427 426.6,427 427.1,427.1 427.6,427.2 428.1,427.4 428.6,427.5 429.1,427.6 429.6,428 430.1,428.7 430.6,429.4 431.1,430.1 431.6,430.9 432.1,431.6 432.6,432.3 433.1,433 433.6,433.7 434.1,434.4 434.6,434.7 435.1,434.8 435.6,435 436.1,435.1 436.6,435.7 437.1,437.2 437.6,438.6 438.1,440 438.6,441.6 439.1,443.6 439.6,445.5 440.1,447.5 440.6,449.5 441.1,451.4 441.6,453.2 442.1,454 442.6,454.8 443.1,455.7 443.6,456.3 444.1,456.3 444.6,456.3 445.1,456.3 445.6,456.3 446.1,456.3 446.6,456.5 447.1,456.8 447.6,457.1 448.1,457.4 448.6,457.6 449.1,457.8 449.6,458 450.1,458.1 450.6,458.3 451.1,458.5 451.6,458.6 452.1,458.7 452.6,458.8 453.1,458.9 453.6,459 454.1,459.7 454.6,460.8 455.1,462 455.6,463.1 456.1,464.2 456.6,464.7 457.1,464.3 457.6,464 458.1,463.6 458.6,463.1 459.1,462.2 459.6,461.2 460.1,460.3 460.6,459.3 461.1,458.4 461.6,457.9 462.1,458.1 462.6,458.2 463.1,458.4 463.6,458.6 464.1,458.1 464.6,457.6 465.1,457.1 465.6,456.6 466.1,456.1 466.6,455.8 467.1,455.8 467.6,455.8 468.1,455.8 468.6,455.8 469.1,456 469.6,456.1 470.1,456.2 470.6,456.4 471.1,456.5 471.6,456.7 472.1,456.9 472.6,457.1 473.1,457.3 473.6,457.3 474.1,456.9 474.6,456.6 475.1,456.2 475.6,455.9 476.1,455.5 476.6,454.8 477.1,453.9 477.6,453.1 478.1,452.2 478.6,451.1 479.1,449.7 479.6,448.3 480.1,446.9 480.6,445.4 481.1,444 481.6,443.2 482.1,443.2 482.6,443.2 483.1,443.3 483.6,443.3 484.1,443.3 484.6,443.3 485.1,443.3 485.6,443.3 486.1,443.3 486.6,443.8 487.1,445 487.6,446.2 488.1,447.5 488.6,448.5 489.1,448.7 489.6,449 490.1,449.2 490.6,449.5 491.1,449.7 491.6,449.9 492.1,450.1 492.6,450.2 493.1,450.4 493.6,450.5 494.1,451 494.6,451.7 495.1,452.5 495.6,453.2 496.1,453.9 496.6,454.2 497.1,454.6 497.6,454.9 498.1,455.3 498.6,455.7 499.1,456.4 499.6,457.1 500.1,457.8 500.6,458.5 501.1,459 501.6,459.5 502.1,460 502.6,460.5 503.1,461 503.6,461.8 504.1,464 504.6,466.1 505.1,468.3 505.6,470.5 506.1,470.8 506.6,471.1 507.1,471.4 507.6,471.8 508.1,472.1 508.6,472.9 509.1,474 509.6,475.2 510.1,476.3 510.6,477.5 511.1,478.7 511.6,480 512.1,481.3 512.6,482.6 513.1,483.9 513.6,485.5 514.1,487.7 514.6,489.8 515.1,492 515.6,494.1 516.1,496 516.6,497.8 517.1,499.7 517.6,501.6 518.1,503.5 518.6,504.8 519.1,505.4 519.6,505.9 520.1,506.4 520.6,507 521.1,507.4 521.6,507.8 522.1,508.1 522.6,508.5 523.1,508.8 523.6,509.2 524.1,509.5 524.6,509.9 525.1,510.2 525.6,510.6 526.1,510.9 526.6,511.3 527.1,511.7 527.6,512.1 528.1,512.5 528.6,512.7 529.1,512.4 529.6,512.1 530.1,511.7 530.6,511.4 531.1,511.4 531.6,511.4 532.1,511.4 532.6,511.4 533.1,511.3 533.6,511.2 534.1,511.2 534.6,511.1 535.1,511 535.6,511 536.1,511.6 536.6,512.2 537.1,512.8 537.6,513.4 538.1,514 538.6,514.1 539.1,513.8 539.6,513.6 540.1,513.3 540.6,513 541.1,512.4 541.6,511.9 542.1,511.4 542.6,510.9 543.1,510.4 543.6,509.7 544.1,508.4 544.6,507.1 545.1,505.9 545.6,504.6 546.1,504.3 546.6,504.1 547.1,503.8 547.6,503.6 548.1,503.3 548.6,503.5 549.1,503.8 549.6,504 550.1,504.2 550.6,504.6 551.1,505.5 551.6,506.4 552.1,507.3 552.6,508.2 553.1,509 553.6,509.4 554.1,509.4 554.6,509.4 555.1,509.4 555.6,509.4 556.1,509.6 556.6,509.8 557.1,510.1 557.6,510.3 558.1,510.5 558.6,511.2 559.1,512 559.6,512.9 560.1,513.7 560.6,514.4 561.1,514.8 561.6,515.3 562.1,515.7 562.6,516.1 563.1,516.6 563.6,517 564.1,517.5 564.6,518 565.1,518.4 565.6,518.8 566.1,518.9 566.6,519.1 567.1,519.2 567.6,519.3 568.1,519.5 568.6,519.5 569.1,519.5 569.6,519.5 570.1,519.5 570.6,519.5 571.1,519.5 571.6,519.5 572.1,519.5 572.6,519.5 573.1,519.5 573.6,519.5 574.1,519.5 574.6,519.5 575.1,519.5 575.6,519.5 576.1,519.5 576.6,519.5 577.1,519.5 577.6,519.2 578.1,518.9 578.6,518.5 579.1,518.2 579.6,517.8 580.1,517.5 580.6,516.7 581.1,514.3 581.6,511.9 582.1,509.5 582.6,507.1 583.1,504.9 583.6,502.6 584.1,500.4 584.6,498.2 585.1,495.9 585.6,493.9 586.1,492.1 586.6,490.4 586.6,491.4 586.1,491.4 585.6,491.4 585.1,491.4 584.6,491.4 584.1,491.4 583.6,491.4 583.1,491.4 582.6,491.4 582.1,491.4 581.6,491.4 581.1,491.4 580.6,491.4 580.1,491.4 579.6,491.4 579.1,491.4 578.6,491.4 578.1,491.4 577.6,491.4 577.1,491.4 576.6,491.4 576.1,491.4 575.6,491.4 575.1,491.4 574.6,491.4 574.1,491.4 573.6,491.4 573.1,491.4 572.6,491.4 572.1,491.4 571.6,491.4 571.1,491.4 570.6,491.4 570.1,491.4 569.6,491.4 569.1,491.4 568.6,491.4 568.1,491.4 567.6,491.4 567.1,491.4 566.6,491.4 566.1,491.4 565.6,491.4 565.1,491.4 564.6,491.4 564.1,491.4 563.6,491.4 563.1,491.4 562.6,491.4 562.1,491.4 561.6,491.4 561.1,491.4 560.6,491.4 560.1,491.4 559.6,491.4 559.1,491.4 558.6,491.4 558.1,491.4 557.6,491.4 557.1,491.4 556.6,491.4 556.1,491.4 555.6,491.4 555.1,491.4 554.6,491.4 554.1,491.4 553.6,491.4 553.1,491.4 552.6,491.4 552.1,491.4 551.6,491.4 551.1,491.4 550.6,491.4 550.1,491.4 549.6,491.4 549.1,491.4 548.6,491.4 548.1,491.4 547.6,491.4 547.1,491.4 546.6,491.4 546.1,491.4 545.6,491.4 545.1,491.4 544.6,491.4 544.1,491.4 543.6,491.4 543.1,491.4 542.6,491.4 542.1,491.4 541.6,491.4 541.1,491.4 540.6,491.4 540.1,491.4 539.6,491.4 539.1,491.4 538.6,491.4 538.1,491.2 537.6,490.8 537.1,490.5 536.6,490.1 536.1,489.7 535.6,489.4 535.1,489.1 534.6,488.8 534.1,488.5 533.6,488.2 533.1,488 532.6,487.9 532.1,487.9 531.6,487.9 531.1,487.9 530.6,487.9 530.1,487.9 529.6,487.9 529.1,487.9 528.6,487.9 528.1,487.6 527.6,487.4 527.1,487.1 526.6,486.8 526.1,486.5 525.6,486.2 525.1,486.1 524.6,486 524.1,485.9 523.6,485.8 523.1,485.7 522.6,485.6 522.1,485.6 521.6,485.5 521.1,485.4 520.6,484.9 520.1,482.4 519.6,479.8 519.1,477.3 518.6,474.8 518.1,472.5 517.6,470.5 517.1,468.4 516.6,466.4 516.1,464.4 515.6,462.3 515.1,459.9 514.6,457.4 514.1,454.9 513.6,452.4 513.1,450.3 512.6,448.6 512.1,446.9 511.6,445.2 511.1,443.5 510.6,441.8 510.1,441.4 509.6,441.4 509.1,441.4 508.6,441.4 508.1,441.4 507.6,441.3 507.1,441.2 506.6,441 506.1,440.9 505.6,440.8 505.1,439.4 504.6,438 504.1,436.6 503.6,435.1 503.1,434.9 502.6,434.9 502.1,434.9 501.6,434.9 501.1,434.9 500.6,434.9 500.1,434.9 499.6,434.9 499.1,434.9 498.6,434.9 498.1,434.9 497.6,434.9 497.1,434.9 496.6,434.9 496.1,434.9 495.6,434.9 495.1,434.9 494.6,434.9 494.1,434.9 493.6,434.9 493.1,434.9 492.6,434.9 492.1,434.9 491.6,434.9 491.1,434.9 490.6,434.9 490.1,434.9 489.6,434.9 489.1,434.9 488.6,434.9 488.1,434.9 487.6,434.9 487.1,434.9 486.6,434.9 486.1,434.9 485.6,434.9 485.1,434.9 484.6,434.9 484.1,434.9 483.6,434.9 483.1,434.9 482.6,434.9 482.1,434.9 481.6,434.9 481.1,434.9 480.6,434.9 480.1,434.9 479.6,434.9 479.1,434.9 478.6,434.9 478.1,434.9 477.6,434.9 477.1,434.9 476.6,434.9 476.1,434.9 475.6,434.9 475.1,434.9 474.6,434.9 474.1,434.9 473.6,434.9 473.1,434.9 472.6,434.9 472.1,434.9 471.6,434.9 471.1,434.9 470.6,434.9 470.1,434.9 469.6,434.9 469.1,434.9 468.6,434.9 468.1,434.9 467.6,434.9 467.1,434.9 466.6,434.9 466.1,434.9 465.6,434.9 465.1,434.9 464.6,434.9 464.1,434.9 463.6,434.9 463.1,434.9 462.6,434.9 462.1,434.9 461.6,434.9 461.1,434.7 460.6,434.6 460.1,434.4 459.6,434.2 459.1,434 458.6,433.8 458.1,433.3 457.6,432.7 457.1,432.1 456.6,431.5 456.1,430.2 455.6,428.2 455.1,426.3 454.6,424.4 454.1,422.5 453.6,421.4 453.1,421.4 452.6,421.4 452.1,421.4 451.6,421.4 451.1,421.4 450.6,421.4 450.1,421.4 449.6,421.4 449.1,421.4 448.6,421.4 448.1,421.4 447.6,421.4 447.1,421.4 446.6,421.4 446.1,421.4 445.6,421.4 445.1,421.4 444.6,421.4 444.1,421.4 443.6,421.4 443.1,421 442.6,420.5 442.1,420 441.6,419.5 441.1,418 440.6,416.2 440.1,414.5 439.6,412.7 439.1,411 438.6,409.2 438.1,407.9 437.6,406.7 437.1,405.4 436.6,404.2 436.1,403.7 435.6,403.7 435.1,403.7 434.6,403.7 434.1,403.7 433.6,403.7 433.1,403.7 432.6,403.7 432.1,403.7 431.6,403.7 431.1,403.7 430.6,403.7 430.1,403.7 429.6,403.7 429.1,403.7 428.6,403.7 428.1,403.7 427.6,403.7 427.1,403.7 426.6,403.7 426.1,403.7 425.6,403.7 425.1,403.7 424.6,403.7 424.1,403.5 423.6,403.1 423.1,402.7 422.6,402.4 422.1,402 421.6,401.6 421.1,400.8 420.6,399.9 420.1,398.9 419.6,397.9 419.1,397.4 418.6,397.4 418.1,397.4 417.6,397.4 417.1,397.4 416.6,397.4 416.1,397.4 415.6,397.4 415.1,397.4 414.6,397.4 414.1,396.1 413.6,394 413.1,391.9 412.6,389.9 412.1,387.8 411.6,385.7 411.1,384.2 410.6,383.2 410.1,382.1 409.6,381.1 409.1,380.9 408.6,380.9 408.1,380.9 407.6,380.9 407.1,380.9 406.6,380.9 406.1,380.9 405.6,380.9 405.1,380.9 404.6,380.9 404.1,380.6 403.6,380.1 403.1,379.6 402.6,379.1 402.1,378.6 401.6,378.2 401.1,378.2 400.6,378.2 400.1,378.2 399.6,378.2 399.1,378.2 398.6,378.1 398.1,378 397.6,377.9 397.1,377.8 396.6,377.8 396.1,377.8 395.6,377.8 395.1,377.8 394.6,377.8 394.1,377.8 393.6,377.8 393.1,377.8 392.6,377.8 392.1,377.8 391.6,377.8 391.1,377.4 390.6,376.7 390.1,375.9 389.6,375.2 389.1,374.5 388.6,372.3 388.1,369.7 387.6,367 387.1,364.4 386.6,361.8 386.1,361.3 385.6,361.3 385.1,361.3 384.6,361.3 384.1,361.3 383.6,361.3 383.1,361.3 382.6,361.3 382.1,361.3 381.6,361.3 381.1,361.3 380.6,361.3 380.1,361.3 379.6,361.3 379.1,361.3 378.6,361.3 378.1,361.3 377.6,361.3 377.1,361.3 376.6,361.3 376.1,361.3 375.6,361.3 375.1,361.3 374.6,361.3 374.1,361.3 373.6,361.3 373.1,361.3 372.6,361.3 372.1,361.3 371.6,361.3 371.1,361.3 370.6,361.3 370.1,361.3 369.6,361.3 369.1,361.3 368.6,361.3 368.1,361.3 367.6,361.3 367.1,361.3 366.6,361.3 366.1,361.3 365.6,361.3 365.1,361.3 364.6,361.3 364.1,358.7 363.6,355.4 363.1,352.1 362.6,348.8 362.1,347.2 361.6,346.9 361.1,346.5 360.6,346.2 360.1,345.8 359.6,345.5 359.1,345.4 358.6,345.4 358.1,345.4 357.6,345.4 357.1,345.4 356.6,345.4 356.1,345.4 355.6,345.4 355.1,345.4 354.6,345.4 354.1,346.6 353.6,348.6 353.1,350.7 352.6,352.7 352.1,353.9 351.6,354 351.1,354.1 350.6,354.1 350.1,354.2 349.6,354.3 349.1,354.3 348.6,354.3 348.1,354.3 347.6,354.3 347.1,354.9 346.6,357.7 346.1,360.6 345.6,363.5 345.1,366.3 344.6,369.2 344.1,370.1 343.6,370.6 343.1,371.1" fill="rgba(255,0,0,0.1)"/>
<polygon points="586.6,490.4 587.1,488.7 587.6,487.2 588.1,486.7 588.6,486.2 589.1,485.6 589.6,485.1 590.1,484.6 590.6,484.3 591.1,484.3 591.6,484.3 592.1,484.3 592.6,484.3 593.1,484.3 593.6,484.2 594.1,484.2 594.6,484.2 595.1,484.2 595.6,484.2 596.1,484.2 596.6,484.1 597.1,484.1 597.6,484.1 598.1,483.8 598.6,483.6 599.1,483.4 599.6,483.1 600.1,482.9 600.6,482.2 601.1,481.5 601.6,480.7 602.1,480 602.6,478.9 603.1,476.7 603.6,474.4 604.1,472.2 604.6,470 605.1,467.7 605.6,465.4 606.1,463 606.6,460.6 607.1,458.1 607.6,456 608.1,455.1 608.6,454.2 609.1,453.4 609.6,452.5 610.1,451.6 610.6,450.4 611.1,448.9 611.6,447.4 612.1,445.9 612.6,444.9 613.1,444.5 613.6,444.2 614.1,443.8 614.6,443.5 615.1,443.2 615.6,442.7 616.1,441.7 616.6,440.7 617.1,439.6 617.6,438.2 618.1,436.1 618.6,434 619.1,432 619.6,429.9 620.1,427.8 620.6,425.9 621.1,424.2 621.6,422.4 622.1,420.7 622.6,419.5 623.1,419.2 623.6,418.9 624.1,418.6 624.6,418.3 625.1,417.9 625.6,417.1 626.1,415.5 626.6,413.9 627.1,412.3 627.6,411.3 628.1,410.7 628.6,410.1 629.1,409.5 629.6,408.9 630.1,408.3 630.6,407.7 631.1,407.1 631.6,406.4 632.1,405.8 632.6,405.2 633.1,404.5 633.6,403.8 634.1,403.1 634.6,402.9 635.1,402.9 635.6,402.8 636.1,402.8 636.6,402.8 637.1,402.8 637.6,402.8 638.1,401.6 638.6,400.4 639.1,399.2 639.6,398.2 640.1,397.7 640.6,397.2 641.1,396.7 641.6,396.2 642.1,395.7 642.6,395.1 643.1,394.2 643.6,393.3 644.1,392.3 644.6,390.9 645.1,388.6 645.6,386.3 646.1,384 646.6,381.7 647.1,379.3 647.6,377.2 648.1,376 648.6,374.7 649.1,373.4 649.6,372.3 650.1,372.1 650.6,371.9 651.1,371.7 651.6,371.5 652.1,371.3 652.6,371.2 653.1,371.2 653.6,371.2 654.1,371.2 654.6,371.2 655.1,371.2 655.6,371.2 656.1,371.2 656.6,371.2 657.1,371.2 657.6,370.7 658.1,370 658.6,369.2 659.1,368.5 659.6,367.7 660.1,367 660.6,366.2 661.1,365.5 661.6,364.7 662.1,364 662.6,363.2 663.1,362.5 663.6,361.8 664.1,361.1 664.6,360.3 665.1,359.6 665.6,358.9 666.1,358.2 666.6,357.4 667.1,356.7 667.6,355.2 668.1,352.6 668.6,349.9 669.1,347.3 669.6,344.8 670.1,343.1 670.6,341.4 671.1,339.7 671.6,338 672.1,336.3 672.6,334.7 673.1,333.1 673.6,331.5 674.1,329.9 674.6,328.6 675.1,328.2 675.6,327.9 676.1,327.5 676.6,327.1 677.1,326.7 677.6,326.4 678.1,326.2 678.6,326 679.1,325.8 679.6,325.6 680.1,324.6 680.6,322.5 681.1,320.3 681.6,318.1 682.1,316 682.6,313.9 683.1,312.1 683.6,310.2 684.1,308.3 684.6,306.8 685.1,306.7 685.6,306.6 686.1,306.4 686.6,306.3 687.1,306.2 687.6,305.9 688.1,305.5 688.6,305.1 689.1,304.7 689.6,303.9 690.1,302 690.6,300.1 691.1,298.2 691.6,296.3 692.1,294.3 692.6,292.8 693.1,292.8 693.6,292.8 694.1,292.8 694.6,292.8 695.1,292.8 695.6,292.8 696.1,292.8 696.6,292.8 697.1,292.8 697.6,292.8 698.1,292.8 698.6,292.8 699.1,292.7 699.6,292.3 700.1,292 700.6,291.6 701.1,291.2 701.6,290.6 702.1,289.7 702.6,288.7 703.1,287.8 703.6,286.8 704.1,285.9 704.6,285.3 705.1,284.8 705.6,284.4 706.1,283.9 706.6,283.5 707.1,283.2 707.6,282.9 708.1,282.5 708.6,282.2 709.1,281.9 709.6,281.7 710.1,281.6 710.6,281.4 711.1,281.3 711.6,281.2 712.1,281 712.6,280.9 713.1,280.7 713.6,280.6 714.1,280.5 714.6,280.7 715.1,281.4 715.6,282.2 716.1,282.9 716.6,283.6 717.1,283.9 717.6,284.2 718.1,284.5 718.6,284.8 719.1,285.1 719.6,285.5 720.1,286.2 720.6,287 721.1,287.8 721.6,288.5 722.1,288.9 722.6,289.3 723.1,289.6 723.6,290 724.1,290.4 724.6,290.8 725.1,290.9 725.6,290.9 726.1,290.9 726.6,290.9 727.1,290.9 727.6,290.9 728.1,290.9 728.6,290.9 729.1,290.9 729.6,290.9 730.1,291.6 730.6,292.4 731.1,293.2 731.6,293.7 732.1,293.1 732.6,292.4 733.1,291.8 733.6,291.1 734.1,290.5 734.6,289.9 735.1,289.7 735.6,289.5 736.1,289.3 736.6,289.1 737.1,289.1 737.6,289.1 738.1,289.1 738.6,289.1 739.1,289.1 739.6,289.1 740.1,289.1 740.6,289.1 741.1,289.1 741.6,289.1 742.1,289.1 742.6,289.1 743.1,289.1 743.6,289.1 744.1,289.1 744.6,289.1 745.1,289 745.6,288.9 746.1,288.7 746.6,288.6 747.1,288.5 747.6,288.4 748.1,288.3 748.6,288.3 749.1,288.2 749.6,288.1 750.1,288.1 750.6,288.1 751.1,288.1 751.6,288.1 752.1,288.1 752.6,288 753.1,288 753.6,288 754.1,287.9 754.6,289 755.1,290.3 755.6,291.7 756.1,293 756.6,294.1 757.1,294.8 757.6,295.5 758.1,296.2 758.6,296.8 759.1,297.5 759.6,298.3 760.1,299.2 760.6,300.1 761.1,301 761.6,301.8 762.1,302.5 762.6,303.1 763.1,303.8 763.6,304.3 764.1,304.5 764.6,304.8 765.1,305 765.6,305.3 766.1,305.5 766.6,305.7 767.1,305.8 767.6,306 768.1,306.2 768.6,306.3 768.6,306 768.1,307.2 767.6,308.4 767.1,309.5 766.6,310.7 766.1,311.4 765.6,311.4 765.1,311.4 764.6,311.4 764.1,311.4 763.6,311.4 763.1,311.4 762.6,311.4 762.1,311.4 761.6,311.4 761.1,311.4 760.6,311.4 760.1,311.4 759.6,311.4 759.1,311.4 758.6,311.4 758.1,311.4 757.6,311.4 757.1,311.4 756.6,311.4 756.1,311.4 755.6,311.4 755.1,311.4 754.6,311.4 754.1,311.4 753.6,311.4 753.1,311.4 752.6,311.4 752.1,311.4 751.6,311.4 751.1,311.4 750.6,311.4 750.1,311.4 749.6,311.4 749.1,311.9 748.6,312.5 748.1,313.2 747.6,313.8 747.1,314.4 746.6,315.4 746.1,317.5 745.6,319.6 745.1,321.7 744.6,323.8 744.1,323.8 743.6,323.8 743.1,323.8 742.6,323.8 742.1,323.8 741.6,323.8 741.1,324.4 740.6,325.3 740.1,326.1 739.6,327 739.1,327.9 738.6,328.8 738.1,329.7 737.6,330.7 737.1,331.6 736.6,332.5 736.1,334.2 735.6,335.9 735.1,337.6 734.6,339.3 734.1,341 733.6,342.7 733.1,344.5 732.6,346.2 732.1,348 731.6,349.7 731.1,350.8 730.6,351.7 730.1,352.6 729.6,353.5 729.1,353.8 728.6,354.2 728.1,354.5 727.6,354.9 727.1,355.2 726.6,355.5 726.1,355.5 725.6,355.5 725.1,355.5 724.6,355.5 724.1,355.7 723.6,355.8 723.1,356 722.6,356.1 722.1,356.3 721.6,356.5 721.1,356.5 720.6,356.5 720.1,356.5 719.6,356.5 719.1,356.5 718.6,356.5 718.1,356.5 717.6,356.5 717.1,356.5 716.6,356.5 716.1,356.5 715.6,356.5 715.1,356.5 714.6,356.5 714.1,356.6 713.6,356.9 713.1,357.2 712.6,357.5 712.1,357.8 711.6,358 711.1,360 710.6,362.4 710.1,364.8 709.6,367.1 709.1,368.8 708.6,370.1 708.1,371.3 707.6,372.6 707.1,373.8 706.6,375.1 706.1,375.6 705.6,376.1 705.1,376.6 704.6,377.2 704.1,377.5 703.6,377.6 703.1,377.6 702.6,377.6 702.1,377.7 701.6,377.7 701.1,377.8 700.6,377.8 700.1,377.8 699.6,377.9 699.1,377.9 698.6,377.9 698.1,377.9 697.6,377.9 697.1,377.9 696.6,377.9 696.1,377.9 695.6,377.9 695.1,377.9 694.6,377.9 694.1,377.9 693.6,377.9 693.1,377.9 692.6,377.9 692.1,379.4 691.6,381.2 691.1,383.1 690.6,384.9 690.1,386.7 689.6,388.6 689.1,389.3 688.6,389.8 688.1,390.2 687.6,390.7 687.1,390.9 686.6,391 686.1,391.1 685.6,391.2 685.1,391.3 684.6,391.3 684.1,392.5 683.6,393.9 683.1,395.4 682.6,396.8 682.1,397.9 681.6,398.6 681.1,399.4 680.6,400.2 680.1,401 679.6,401.3 679.1,401.3 678.6,401.3 678.1,401.3 677.6,401.3 677.1,401.4 676.6,401.5 676.1,401.6 675.6,401.6 675.1,401.7 674.6,401.8 674.1,402.6 673.6,403.5 673.1,404.5 672.6,405.4 672.1,406.4 671.6,407.3 671.1,408.3 670.6,409.2 670.1,410.2 669.6,411.1 669.1,411.6 668.6,411.9 668.1,412.2 667.6,412.6 667.1,412.7 666.6,412.8 666.1,412.9 665.6,412.9 665.1,413 664.6,413.1 664.1,413.1 663.6,413.1 663.1,413.1 662.6,413.1 662.1,413.2 661.6,413.4 661.1,413.7 660.6,413.9 660.1,414.2 659.6,414.4 659.1,414.9 658.6,415.5 658.1,416.2 657.6,416.8 657.1,417.2 656.6,417.2 656.1,417.2 655.6,417.2 655.1,417.2 654.6,417.2 654.1,417.5 653.6,418.1 653.1,418.8 652.6,419.5 652.1,421.4 651.6,424.1 651.1,426.8 650.6,429.5 650.1,432.2 649.6,435 649.1,437.9 648.6,440.9 648.1,443.8 647.6,446.8 647.1,448.9 646.6,450.8 646.1,452.6 645.6,454.5 645.1,456.3 644.6,458.2 644.1,458.9 643.6,458.9 643.1,458.9 642.6,458.9 642.1,458.9 641.6,458.9 641.1,458.9 640.6,458.9 640.1,458.9 639.6,458.9 639.1,458.9 638.6,458.9 638.1,458.9 637.6,458.9 637.1,458.9 636.6,458.9 636.1,458.9 635.6,458.9 635.1,458.9 634.6,458.9 634.1,459 633.6,459.3 633.1,459.5 632.6,459.8 632.1,459.9 631.6,459.9 631.1,459.9 630.6,459.9 630.1,459.9 629.6,459.9 629.1,459.9 628.6,459.9 628.1,459.9 627.6,459.9 627.1,459.9 626.6,459.9 626.1,459.9 625.6,459.9 625.1,459.9 624.6,459.9 624.1,459.9 623.6,459.9 623.1,459.9 622.6,459.9 622.1,460.7 621.6,462.2 621.1,463.7 620.6,465.2 620.1,467 619.6,469.1 619.1,471.1 618.6,473.2 618.1,475.3 617.6,477.4 617.1,478.7 616.6,479.6 616.1,480.5 615.6,481.4 615.1,481.9 614.6,482.2 614.1,482.5 613.6,482.9 613.1,483.2 612.6,483.6 612.1,484.6 611.6,486.1 611.1,487.6 610.6,489.1 610.1,490.3 609.6,491.2 609.1,492.1 608.6,492.9 608.1,493.8 607.6,494.7 607.1,495.8 606.6,496.9 606.1,498 605.6,499.2 605.1,499.6 604.6,499.5 604.1,499.5 603.6,499.5 603.1,499.4 602.6,499.4 602.1,498.3 601.6,496.8 601.1,495.4 600.6,493.9 600.1,492.7 599.6,492.5 599.1,492.2 598.6,491.9 598.1,491.6 597.6,491.4 597.1,491.4 596.6,491.4 596.1,491.4 595.6,491.4 595.1,491.4 594.6,491.4 594.1,491.4 593.6,491.4 593.1,491.4 592.6,491.4 592.1,491.4 591.6,491.4 591.1,491.4 590.6,491.4 590.1,491.4 589.6,491.4 589.1,491.4 588.6,491.4 588.1,491.4 587.6,491.4 587.1,491.4 586.6,491.4" fill="rgba(0,128,0,0.1)"/>
<polygon points="768.6,306.3 769.1,306.6 769.6,306.9 770.1,307.2 770.6,307.5 771.1,307.8 771.6,308.1 772.1,308.4 772.6,308.7 773.1,309 773.6,309.4 774.1,309.8 774.6,310.3 775.1,310.8 775.6,311.3 776.1,311.7 776.6,312.3 777.1,312.8 777.6,313.4 778.1,314 778.6,314.6 779.1,315.4 779.6,316.1 780.1,316.8 780.6,317.6 781.1,318.3 781.6,318.9 782.1,319.5 782.6,320.1 783.1,320.7 783.6,321 784.1,321 784.6,321 785.1,321 785.6,321 786.1,321.2 786.6,321.4 787.1,321.6 787.6,321.8 788.1,321.9 788.6,322.3 789.1,323.1 789.6,324 790.1,324.8 790.6,325.7 791.1,326.6 791.6,326.6 792.1,326.7 792.6,326.8 793.1,326.9 793.6,327 794.1,327.1 794.6,327.1 795.1,327.2 795.6,327.2 796.1,327.3 796.6,327.5 797.1,327.9 797.6,328.2 798.1,328.5 798.6,328.9 799.1,329.4 799.6,330 800.1,330.5 800.6,331 801.1,331.5 801.6,333 802.1,336.2 802.6,339.3 803.1,342.4 803.6,345.5 804.1,346 804.6,346.5 805.1,346.9 805.6,347.4 806.1,347.9 806.6,348.2 807.1,348.2 807.6,348.2 808.1,348.2 808.6,348.3 809.1,348.8 809.6,349.2 810.1,349.7 810.6,350.2 811.1,350.7 811.6,351.8 812.1,353.8 812.6,355.8 813.1,357.8 813.6,359.9 814.1,360.1 814.6,360.4 815.1,360.7 815.6,360.9 816.1,361.2 816.6,361.6 817.1,362.2 817.6,362.8 818.1,363.4 818.6,364 819.1,364.3 819.6,364.7 820.1,365 820.6,365.4 821.1,365.7 821.6,366.2 822.1,366.7 822.6,367.2 823.1,367.7 823.6,368.2 824.1,368.7 824.6,369.1 825.1,369.6 825.6,370 826.1,370.3 826.6,370.3 827.1,370.2 827.6,370.2 828.1,370.2 828.6,369.9 829.1,369.2 829.6,368.6 830.1,367.9 830.6,367.4 831.1,367.3 831.6,367.2 832.1,367.1 832.6,367 833.1,367 833.6,366.9 834.1,366.8 834.6,366.8 835.1,366.8 835.6,366.7 836.1,366.7 836.6,366.6 837.1,366.6 837.6,366.5 838.1,366.4 838.6,366.5 839.1,366.7 839.6,366.8 840.1,367 840.6,367 841.1,366.9 841.6,366.9 842.1,366.8 842.6,366.7 843.1,366.6 843.6,366.6 844.1,367.4 844.6,368.1 845.1,368.8 845.6,369.5 846.1,369.8 846.6,370 847.1,370.3 847.6,370.5 848.1,370.7 848.6,371 849.1,371 849.6,371 850.1,371 850.6,371 851.1,371.1 851.6,371.6 852.1,372 852.6,372.4 853.1,372.9 853.6,373.2 854.1,373.6 854.6,373.9 855.1,374.2 855.6,374.5 856.1,374.5 856.6,374.5 857.1,374.5 857.6,374.5 858.1,374.5 858.6,374.5 859.1,374.7 859.6,374.9 860.1,375.2 860.6,375.4 861.1,375.7 861.6,376.3 862.1,376.9 862.6,377.5 863.1,378 863.6,378.5 864.1,378.6 864.6,378.8 865.1,379 865.6,379.1 866.1,379.1 866.6,379.1 867.1,379.1 867.6,379.1 868.1,379.1 868.6,379.1 869.1,379 869.6,379 870.1,378.9 870.6,378.8 871.1,378.8 871.6,378.8 872.1,378.7 872.6,378.7 873.1,378.7 873.6,379 874.1,379.3 874.6,379.7 875.1,380 875.6,380.4 876.1,380.9 876.6,381.5 877.1,382.1 877.6,382.6 878.1,383.2 878.6,384.2 879.1,385.9 879.6,387.6 880.1,389.3 880.6,390.8 881.1,391.3 881.6,391.7 882.1,392.2 882.6,392.7 883.1,393.1 883.6,393.6 884.1,394 884.6,394.4 885.1,394.8 885.6,395.1 886.1,395.2 886.6,395.3 887.1,395.4 887.6,395.5 888.1,395.6 888.6,395.9 889.1,396.5 889.6,397 890.1,397.5 890.6,398.1 891.1,398.8 891.6,399.6 892.1,400.4 892.6,401.1 893.1,401.9 893.6,402.6 894.1,403 894.6,403.5 895.1,404 895.6,404.6 896.1,405.7 896.6,406.8 897.1,408 897.6,409.1 898.1,410.2 898.6,411.2 899.1,412.3 899.6,413.3 900.1,414.4 900.6,416 901.1,419.5 901.6,423.1 902.1,426.6 902.6,430.2 903.1,430.7 903.6,431.3 904.1,431.8 904.6,432.4 905.1,432.9 905.6,433.2 906.1,433.2 906.6,433.2 907.1,433.2 907.6,433.2 908.1,433.2 908.6,433.2 909.1,433.2 909.6,433.2 910.1,433.2 910.6,433.6 911.1,434.4 911.6,435.1 912.1,435.9 912.6,436.7 913.1,437.4 913.6,438.1 914.1,438.7 914.6,439.4 915.1,440.1 915.6,440.8 916.1,441.5 916.6,442.1 917.1,442.8 917.6,443.4 918.1,443.7 918.6,444 919.1,444.4 919.6,444.7 920.1,445.2 920.6,446.6 921.1,447.9 921.6,449.2 922.1,450.6 922.6,451.7 923.1,452.2 923.6,452.7 924.1,453.1 924.6,453.6 925.1,454 925.6,454.3 926.1,454.5 926.6,454.7 927.1,454.9 927.6,455.1 928.1,455.2 928.6,455.3 929.1,455.5 929.6,455.6 930.1,455.7 930.6,456.5 931.1,457.7 931.6,458.9 932.1,460.1 932.6,460.9 933.1,461.3 933.6,461.6 934.1,461.9 934.6,462.2 935.1,462.5 935.6,462.7 936.1,463 936.6,463.2 937.1,463.4 937.6,463.6 938.1,463.9 938.6,464.2 939.1,464.4 939.6,464.7 940.1,465 940.6,465.3 941.1,465.6 941.6,465.9 942.1,466.2 942.6,466.7 943.1,467.3 943.6,468 944.1,468.6 944.6,469.2 945.1,469.9 945.6,470.6 946.1,471.2 946.6,471.9 947.1,472.5 947.6,473.4 948.1,474.6 948.6,475.8 949.1,477 949.6,478.2 950.1,479.5 950.6,480.6 951.1,481.7 951.6,482.7 952.1,483.7 952.6,484.7 953.1,486.9 953.6,489.2 954.1,491.4 954.6,493.6 955.1,495.8 955.6,497.4 956.1,497.9 956.6,498.4 957.1,498.8 957.6,499.3 958.1,499.8 958.6,500.3 959.1,500.4 959.6,500.6 960.1,500.7 960.6,501 961.1,501.4 961.6,501.9 962.1,502.3 962.6,502.8 963.1,503.5 963.6,504.1 964.1,504.7 964.6,505.2 965.1,505.6 965.6,506 966.1,506.4 966.6,506.8 967.1,507.2 967.6,506.8 968.1,505.8 968.6,504.9 969.1,504 969.6,503.2 970.1,502.7 970.6,502.1 971.1,501.6 971.6,501.1 972.1,500.5 972.6,497.7 973.1,493.4 973.6,489 974.1,484.7 974.6,481.5 975.1,479.9 975.6,478.4 976.1,476.9 976.6,475.3 977.1,473.8 977.6,472.2 978.1,471.3 978.6,470.6 979.1,469.9 979.6,469.1 980.1,468.3 980.6,467.4 981.1,466.5 981.6,465.6 982.1,464.7 982.6,464 983.1,463.3 983.6,462.6 984.1,461.9 984.6,461.2 985.1,460.9 985.6,460.6 986.1,460.2 986.6,459.9 987.1,459.5 987.6,459.2 987.6,459.4 987.1,459.1 986.6,458.8 986.1,458.5 985.6,458.2 985.1,457.8 984.6,457.5 984.1,457.5 983.6,457.4 983.1,457.4 982.6,457.4 982.1,457.4 981.6,457.4 981.1,457.4 980.6,457.4 980.1,457.4 979.6,457.4 979.1,457.4 978.6,457.4 978.1,457.4 977.6,457.4 977.1,457.4 976.6,457.4 976.1,457.4 975.6,457.4 975.1,457.4 974.6,457.4 974.1,457.4 973.6,457.4 973.1,457.4 972.6,457.4 972.1,457.4 971.6,457.4 971.1,457.4 970.6,457.4 970.1,457.4 969.6,457.4 969.1,456.7 968.6,455.6 968.1,454.6 967.6,453.5 967.1,452.7 966.6,452.3 966.1,451.9 965.6,451.5 965.1,451.1 964.6,450.7 964.1,450.6 963.6,450.6 963.1,450.6 962.6,450.6 962.1,450.5 961.6,450.2 961.1,449.9 960.6,449.7 960.1,449.6 959.6,449.6 959.1,449.6 958.6,449.6 958.1,449.6 957.6,449.6 957.1,449.6 956.6,449.6 956.1,449.6 955.6,449.6 955.1,448.4 954.6,446.5 954.1,444.5 953.6,442.6 953.1,440.6 952.6,438.7 952.1,437.7 951.6,436.7 951.1,435.6 950.6,434.6 950.1,433.4 949.6,432.2 949.1,431 948.6,429.8 948.1,428.6 947.6,427.4 947.1,426.6 946.6,426.1 946.1,425.6 945.6,425.1 945.1,424.6 944.6,424.3 944.1,424.3 943.6,424.3 943.1,424.3 942.6,424.3 942.1,424.3 941.6,424.3 941.1,424.3 940.6,424.3 940.1,424.3 939.6,424.3 939.1,424.3 938.6,424.3 938.1,424.3 937.6,424.3 937.1,424.3 936.6,424.3 936.1,424.3 935.6,424.3 935.1,424.3 934.6,424.3 934.1,424.3 933.6,424.3 933.1,424.3 932.6,424.3 932.1,424.3 931.6,424.3 931.1,424.3 930.6,424.3 930.1,424.2 929.6,423.9 929.1,423.7 928.6,423.4 928.1,423.2 927.6,422.9 927.1,422.6 926.6,422.4 926.1,422.1 925.6,421.8 925.1,421.6 924.6,421.4 924.1,421.2 923.6,421 923.1,420.8 922.6,420.6 922.1,420.1 921.6,419.4 921.1,418.8 920.6,418.1 920.1,417.4 919.6,417 919.1,416.7 918.6,416.3 918.1,416 917.6,415.6 917.1,414.5 916.6,412.9 916.1,411.3 915.6,409.7 915.1,409.2 914.6,408.9 914.1,408.6 913.6,408.3 913.1,408 912.6,407.8 912.1,407.2 911.6,406.6 911.1,406.1 910.6,405.5 910.1,404.9 909.6,404.3 909.1,403.7 908.6,403.1 908.1,402.5 907.6,402 907.1,401.6 906.6,401.2 906.1,400.8 905.6,400.4 905.1,399.9 904.6,399.4 904.1,398.9 903.6,398.4 903.1,397.9 902.6,397.4 902.1,394.7 901.6,392 901.1,389.3 900.6,386.5 900.1,385.4 899.6,384.6 899.1,383.8 898.6,383 898.1,382.2 897.6,381.5 897.1,380.7 896.6,380 896.1,379.3 895.6,378.6 895.1,378.1 894.6,377.6 894.1,377.2 893.6,376.7 893.1,376 892.6,375.3 892.1,374.5 891.6,373.7 891.1,373 890.6,372.2 890.1,372 889.6,371.8 889.1,371.7 888.6,371.6 888.1,371.5 887.6,371.5 887.1,371.5 886.6,371.5 886.1,371.5 885.6,371.5 885.1,370.8 884.6,370 884.1,369.3 883.6,368.5 883.1,367.3 882.6,365.9 882.1,364.6 881.6,363.2 881.1,361.8 880.6,360.4 880.1,358.4 879.6,356.2 879.1,354.1 878.6,351.9 878.1,350.4 877.6,349.3 877.1,348.3 876.6,347.2 876.1,346.2 875.6,345.2 875.1,344.5 874.6,344 874.1,343.4 873.6,342.9 873.1,342.5 872.6,342.5 872.1,342.5 871.6,342.5 871.1,342.5 870.6,342.5 870.1,341.2 869.6,339.9 869.1,338.7 868.6,337.4 868.1,336.6 867.6,335.9 867.1,335.2 866.6,334.6 866.1,333.9 865.6,333.2 865.1,332.9 864.6,332.7 864.1,332.5 863.6,332.3 863.1,332.2 862.6,332.2 862.1,332.2 861.6,332.2 861.1,332.2 860.6,332.2 860.1,332.2 859.6,332.2 859.1,332.2 858.6,332.2 858.1,332.2 857.6,332.2 857.1,332.2 856.6,332.2 856.1,332.2 855.6,332.2 855.1,332.2 854.6,332.2 854.1,332.2 853.6,332.2 853.1,332.2 852.6,332.2 852.1,332.2 851.6,332.2 851.1,332.2 850.6,332.2 850.1,332.2 849.6,332.2 849.1,332.2 848.6,332.2 848.1,332.2 847.6,332.2 847.1,332.2 846.6,332.2 846.1,332.2 845.6,332.2 845.1,332.2 844.6,332.2 844.1,332.2 843.6,332.2 843.1,332.2 842.6,332.2 842.1,332.2 841.6,332.2 841.1,332.2 840.6,332.2 840.1,332.2 839.6,332.2 839.1,332.2 838.6,332.2 838.1,332.2 837.6,332.2 837.1,332.2 836.6,332.2 836.1,332.2 835.6,332.2 835.1,332.2 834.6,332.2 834.1,332.2 833.6,332.2 833.1,332.2 832.6,332.2 832.1,332.2 831.6,332.2 831.1,332.2 830.6,332.2 830.1,331.7 829.6,331 829.1,330.4 828.6,329.7 828.1,329.4 827.6,329.4 827.1,329.4 826.6,329.4 826.1,329.4 825.6,329 825.1,328.4 824.6,327.7 824.1,327 823.6,326.4 823.1,325.4 822.6,323.8 822.1,322.3 821.6,320.7 821.1,319.5 820.6,319.5 820.1,319.5 819.6,319.5 819.1,319.5 818.6,319.5 818.1,319.5 817.6,319.5 817.1,319.5 816.6,319.5 816.1,319.5 815.6,319.5 815.1,319.5 814.6,319.5 814.1,319.5 813.6,319.5 813.1,318 812.6,316.5 812.1,315 811.6,313.5 811.1,313 810.6,313 810.1,313 809.6,313 809.1,313 808.6,313 808.1,313 807.6,313 807.1,313 806.6,313 806.1,313 805.6,313 805.1,313 804.6,313 804.1,313 803.6,313 803.1,310.7 802.6,308.4 802.1,306.1 801.6,303.8 801.1,302.7 800.6,302.4 800.1,302.1 799.6,301.9 799.1,301.6 798.6,301.3 798.1,301.1 797.6,301.1 797.1,301.1 796.6,301.1 796.1,301.1 795.6,301.1 795.1,301.1 794.6,301.1 794.1,301.1 793.6,301.1 793.1,301.1 792.6,301 792.1,300.9 791.6,300.8 791.1,300.7 790.6,299.8 790.1,299 789.6,298.1 789.1,297.3 788.6,296.4 788.1,296.1 787.6,296 787.1,295.8 786.6,295.7 786.1,295.5 785.6,295.4 785.1,295.4 784.6,295.4 784.1,295.4 783.6,295.4 783.1,295.1 782.6,294.5 782.1,294 781.6,293.4 781.1,292.9 780.6,292.1 780.1,291.4 779.6,290.7 779.1,289.9 778.6,289.2 778.1,288.8 777.6,288.6 777.1,288.4 776.6,288.2 776.1,288.7 775.6,290.3 775.1,291.9 774.6,293.5 774.1,295.1 773.6,296.7 773.1,297.7 772.6,298.7 772.1,299.6 771.6,300.6 771.1,301.5 770.6,302.4 770.1,303.3 769.6,304.1 769.1,305 768.6,306" fill="rgba(255,0,0,0.1)"/>
<polygon points="987.6,459.2 988.1,459 988.6,458.8 989.1,458.6 989.6,458.4 990.1,458.2 990.6,455.9 991.1,453.7 991.6,451.4 992.1,449.2 992.6,448.2 993.1,447.6 993.6,447 994.1,446.3 994.6,445.7 995.1,444 995.6,442.3 996.1,440.6 996.6,438.9 997.1,437.2 997.6,436.2 998.1,436.2 998.6,436.2 999.1,436.2 999.6,436.2 1000.1,436.2 1000.6,436.2 1001.1,436.2 1001.6,436.2 1002.1,436.2 1002.6,436.2 1003.1,436.3 1003.6,436.3 1004.1,436.3 1004.6,436.4 1005.1,436.6 1005.6,436.8 1006.1,437 1006.6,437.2 1007.1,437.5 1007.6,437.7 1008.1,438 1008.6,438.3 1009.1,438.7 1009.6,438.8 1010.1,438.8 1010.6,438.8 1011.1,438.8 1011.6,438.8 1012.1,438.8 1012.6,438.8 1013.1,438.8 1013.6,438.7 1014.1,438.7 1014.6,438.5 1015.1,438.3 1015.6,438.1 1016.1,437.9 1016.6,437.7 1017.1,437.5 1017.6,437.3 1018.1,436.8 1018.6,436.2 1019.1,435.5 1019.6,434.8 1020.1,434.1 1020.6,433.7 1021.1,433.3 1021.6,432.9 1022.1,432.4 1022.6,432.1 1023.1,432.1 1023.6,432.1 1024.1,432.1 1024.6,431.8 1025.1,431.2 1025.6,430.5 1026.1,429.9 1026.6,429.2 1027.1,428.8 1027.6,428.5 1028.1,428.3 1028.6,428 1029.1,427.8 1029.6,427.5 1030.1,428.1 1030.6,428.8 1031.1,429.6 1031.6,430.3 1032.1,428.7 1032.6,427.1 1033.1,425.5 1033.6,423.8 1034.1,422.2 1034.6,420.7 1035.1,420 1035.6,419.2 1036.1,418.4 1036.6,417.1 1037.1,413.6 1037.6,410.1 1038.1,406.5 1038.6,403 1039.1,399.5 1039.6,396.4 1040.1,394.2 1040.6,391.9 1041.1,389.6 1041.6,388.2 1042.1,388.2 1042.6,388.2 1043.1,388.2 1043.6,388.2 1044.1,388.2 1044.6,386.9 1045.1,384.7 1045.6,382.4 1046.1,380.2 1046.6,378.7 1047.1,378.4 1047.6,378 1048.1,377.7 1048.6,377.3 1049.1,377 1049.6,376.8 1050.1,376.8 1050.6,376.8 1051.1,376.8 1051.6,376.8 1052.1,376.8 1052.6,376.8 1053.1,376.8 1053.6,376.8 1054.1,376.8 1054.6,375.2 1055.1,372.5 1055.6,369.9 1056.1,367.2 1056.6,364.6 1056.6,424.1 1056.1,426.4 1055.6,428.8 1055.1,431.2 1054.6,433.5 1054.1,434.9 1053.6,434.9 1053.1,434.9 1052.6,434.9 1052.1,434.9 1051.6,434.9 1051.1,434.9 1050.6,434.9 1050.1,434.9 1049.6,434.9 1049.1,435.2 1048.6,435.5 1048.1,435.9 1047.6,436.2 1047.1,436.6 1046.6,436.9 1046.1,438.4 1045.6,440.6 1045.1,442.9 1044.6,445.1 1044.1,446.4 1043.6,446.4 1043.1,446.4 1042.6,446.4 1042.1,446.4 1041.6,446.4 1041.1,447.8 1040.6,450.1 1040.1,452.4 1039.6,454.6 1039.1,456.8 1038.6,458.8 1038.1,460.8 1037.6,462.8 1037.1,464.9 1036.6,466.9 1036.1,467.3 1035.6,467.3 1035.1,467.3 1034.6,467.3 1034.1,467.3 1033.6,467.3 1033.1,467.3 1032.6,467.3 1032.1,467.3 1031.6,467.3 1031.1,467.3 1030.6,467.3 1030.1,467.3 1029.6,467.3 1029.1,467.3 1028.6,467.3 1028.1,467.3 1027.6,467.3 1027.1,467.3 1026.6,467.3 1026.1,467.3 1025.6,467.3 1025.1,467.3 1024.6,467.3 1024.1,467.3 1023.6,467.3 1023.1,467.3 1022.6,467.3 1022.1,467.3 1021.6,467.3 1021.1,467.3 1020.6,467.3 1020.1,467.3 1019.6,467.3 1019.1,467.3 1018.6,467.3 1018.1,467.3 1017.6,467.3 1017.1,467.3 1016.6,467.3 1016.1,467.3 1015.6,467.3 1015.1,467.3 1014.6,467.3 1014.1,467.3 1013.6,467.3 1013.1,467.3 1012.6,467.3 1012.1,467.3 1011.6,467.3 1011.1,467.3 1010.6,467.3 1010.1,467.3 1009.6,467.3 1009.1,467.3 1008.6,467.3 1008.1,467.3 1007.6,467.3 1007.1,467.3 1006.6,467.3 1006.1,467.3 1005.6,467.3 1005.1,467.3 1004.6,467.3 1004.1,467.3 1003.6,467.2 1003.1,467.2 1002.6,467.2 1002.1,467 1001.6,466.9 1001.1,466.7 1000.6,466.6 1000.1,466.4 999.6,466.3 999.1,466.3 998.6,466.3 998.1,466.3 997.6,466.3 997.1,465.8 996.6,465.1 996.1,464.3 995.6,463.6 995.1,462.8 994.6,462 994.1,461.9 993.6,461.7 993.1,461.5 992.6,461.3 992.1,461.1 991.6,460.6 991.1,460.2 990.6,459.8 990.1,459.4 989.6,459.4 989.1,459.4 988.6,459.4 988.1,459.4 987.6,459.4" fill="rgba(0,128,0,0.1)"/>
<g fill="none" stroke-width="1" stroke-linejoin="round">
<polyline points="1.1,575.7 6.7,566.2 11.2,544.9 14.6,542.1 16.8,536.5 21.3,536.2 25.2,529.2 31.4,525.3 38.1,530.9 44.8,536.5 48.7,541.3 51.5,541.3 53.8,544.3 56,545.5 58.3,542.4 61.1,544.3 63.3,548.8 67.2,550.5 71.7,553.9 76.2,557.2 78.4,562.8 82.9,566.2 87.4,576.3 93,581.3 96.3,586.3 98.6,588.6 105.9,588.6 108.7,597.5 112.4,611.2 115.6,615.3 119.7,616.1 125.4,621 131.4,624.4 133.4,624.4 136.3,623.9 138.3,624.6 141.2,623.6 143.5,617.5 146.4,617.5 148.4,617.5 151.3,617.5 153.6,617.5 156.5,617.3 158.5,617 161.4,613.9 163.4,604.1 166.3,595.5 168.3,592.2 171.2,590.2 173.1,587.4 175.7,581.5 178.5,581.1 180.6,576.6 183.6,572.1 185.5,550.9 187.9,547.5 190.3,546.5 193.2,544.7 195.2,535.5 198.1,535 200.2,535 203.2,530.9 205.1,527.7 208.2,525.5 210.2,521.9 213.3,519.2 215.2,515.4 218.3,500.9 220.3,497.2 223.2,495 225.5,485.9 228.4,466.8 230.4,457.9 233.3,455.7 235.3,449.2 238.3,439.6 240.4,419.5 242.4,417.1 245.3,412 247.4,396.8 250.3,389.3 252.3,379.4 255.2,373.9 257.3,356.8 260.3,344.2 262.2,341.4 265.5,341.1 267.4,341.1 270.4,340.5 272.5,338.9 275.3,338.5 277.4,338.5 280.3,337.4 282.3,336.2 285.4,338 287.3,338.4 290.2,333.8 292.4,328.6 295.3,333.8 297.4,338.6 300,338.6 302.3,350.6 304.4,357.2 307.4,363.4 309.4,363.4 312.1,363.4 314.3,365.2 317.4,368.4 319.3,366.9 322.5,366.1 324.4,371.8 327.5,370.9 329.5,364.5 332.4,364.1 334.5,365.8 337.4,370.2 339.5,371.5 342.4,371.5 344.5,371.5 347.2,373.5 349.4,384.7 352.3,386 354.4,389.4 357.2,392.5 359.5,392.5 362.4,394.9 364.5,408.8 367.3,408.8 369.4,408.8 371.5,411.8 374.5,410.8 376.4,410.3 379.4,410.3 381.3,409.2 384.3,407.6 386.5,406.6 389,403.2 391.4,405.1 394.3,401.4 397,400.6 399.2,405.6 401.7,406 404.4,406 406.6,407.2 409.5,408.2 411.4,411.9 414.4,417.7 416.3,418.4 419.3,420.1 421.4,424.7 424.3,427 426.6,427 429.4,427.7 431.5,430.7 434.3,434.7 436.4,435.1 438.5,441.2 441.5,453 443.5,456.3 446.3,456.3 448.4,457.6 451.3,458.6 453.8,459.1 456.4,464.9 458.5,463.3 461.4,457.8 463.6,458.6 466.4,455.8 468.6,455.8 471.4,456.6 473.4,457.4 476.2,455.4 478.4,451.7 481.4,443.2 484.1,443.3 486.4,443.3 488.5,448.4 491.4,449.9 493.8,450.6 496.1,453.9 498.5,455.5 500.5,458.4 503.5,461.4 505.6,470.5 508.3,472.2 510.5,477.2 513.4,484.7 515.5,493.7 518.4,504.6 520.7,507.1 523.5,509.1 525.6,510.6 528.5,512.8 530.6,511.4 532.9,511.4 535.5,510.9 538.3,514.2 540.4,513.2 543.5,509.9 545.6,504.6 548.1,503.3 550.5,504.4 553.3,509.4 555.7,509.4 558.2,510.6 560.5,514.3 563.4,516.8 565.5,518.8 568.1,519.5 570.4,519.5 572.8,519.5 575.3,519.5 577.3,519.5 580.5,517.2 582.4,508 585.4,494.6 587.5,487.3 590.4,484.3 592.4,484.3 595.3,484.2 597.6,484.1 600.2,482.9 602.5,479.4 605.4,466.4 607.5,456.2 610.4,451.1 612.4,445 615.5,442.9 617.4,439 620.4,426.6 622.4,419.6 625.4,417.8 627.3,411.7 630.2,408.1 632.4,405.5 634.3,402.9 637.6,402.8 639.5,398.3 642.5,395.3 644.4,391.8 647.5,377.5 649.5,372.4 652.4,371.2 654.3,371.2 657.3,371.2 659.4,368 662.3,363.7 664.4,360.6 667.4,356.3 669.5,345.2 672.4,335.3 674.5,328.7 677.5,326.4 679.9,325.5 682.4,314.7 684.5,306.9 687.4,306.1 689.5,304.3 692.5,292.8 694.6,292.8 696.5,292.8 699,292.8 701.4,291 704.3,285.5 706.6,283.5 709.4,281.7 711.5,281.2 714.4,280.4 716.6,283.6 719.5,285.3 721.6,288.5 724.7,290.9 726.7,290.9 729.6,290.9 731.5,293.8 734.5,290 736.6,289.1 739.5,289.1 741.5,289.1 744.6,289.1 746.7,288.6 749.5,288.1 751.6,288.1 754.2,287.9 756.4,293.9 759.3,297.8 761.4,301.5 763.4,304.2 766.3,305.6 768.8,306.4 771.1,307.8 773.5,309.3 776.3,311.9 778.4,314.4 781.2,318.4 783.4,321 785.7,321 788.5,322.1 791.1,326.6 793.4,327 796.3,327.3 798.4,328.7 801.4,331.8 803.6,345.5 806.4,348.2 808.5,348.2 811.4,351 813.6,359.9 816.3,361.3 818.6,364 821.2,365.8 823.3,367.9 825.9,370.3 828.4,370.2 830.5,367.4 833.4,366.9 835.9,366.7 838.3,366.4 840.4,367.1 843.5,366.5 845.7,369.6 848.6,371 850.9,371 853.3,373 855.4,374.5 858.5,374.5 861,375.6 863.4,378.4 865.5,379.1 868.5,379.1 870.6,378.8 873.2,378.7 875.5,380.3 878.4,383.5 880.5,390.7 883.4,393.4 885.5,395.1 888.3,395.6 890.5,397.9 893.5,402.5 895.5,404.3 897.6,409.1 900.5,415.2 902.6,430.2 905.4,433.2 907.7,433.2 910.4,433.2 912.6,436.7 915.5,440.6 917.4,443.2 920,445 922.5,451.6 925.3,454.2 927.5,455.1 930.3,455.7 932.4,460.8 935.4,462.6 937.5,463.6 939.9,464.9 942.4,466.4 944.8,469.5 947.4,472.9 950.5,480.4 952.6,484.7 955.4,497.2 958.5,500.2 960.5,500.9 962.4,502.6 964.5,505.2 967.3,507.3 969.4,503.4 972.3,500.3 974.4,482.1 977.7,471.9 979.7,469 982.2,464.5 984.6,461.2 987.5,459.3 990.1,458.2 992.2,448.8 994.6,445.7 997.4,436.2 999.7,436.2 1002.5,436.2 1004.6,436.4 1007.5,437.6 1009.4,438.8 1012.3,438.8 1014.4,438.6 1017.9,437.1 1020,434.2 1022.5,432.1 1024.4,432.1 1026.9,428.9 1029.7,427.5 1031.6,430.3 1034.5,420.9 1036.5,417.8 1039.4,397.4 1041.4,388.2 1044.3,388.2 1046.4,378.9 1049.4,376.8 1051.3,376.8 1054.3,376.8 1056.7,364.1" stroke="rgba(67,160,71,0.85)"/>
<polyline points="1.1,506.2 4.3,507.4 6.7,518.6 11.8,533.1 15.7,533.7 17.4,537 21.3,557.8 26.9,558.3 29.7,559.5 39.2,559.5 41.4,557.4 68.3,557.4 70.6,553.9 73.4,543.5 77.3,543.5 78.4,544.6 83.5,544.6 87.4,551.4 105.9,551.4 110,566.2 111.5,571 114,573.2 143.9,573.5 150,580.3 153.7,585 163.5,599.7 171.7,599.7 183.2,589.8 193,576.8 198.1,574.4 200.2,574.4 203.2,570.9 205.1,570.9 208.2,570.9 210.2,568.5 213.3,565.9 215.2,565.9 218.3,556.9 220.3,553.2 223.2,553.2 225.5,547.5 228.4,534.9 230.4,530.6 233.3,529.8 235.3,524 238.3,515.3 240.4,502.9 242.4,500.5 245.3,491.8 247.4,482.4 250.3,470.1 252.3,460.2 255.2,457.2 257.3,446.9 260.3,442.6 262.2,442.6 265.5,442.6 267.4,442.6 270.4,442.6 272.5,442.2 275.3,439.8 277.4,439.8 280.3,438.9 282.3,433.6 285.4,433.6 287.3,429.2 290.2,422.2 292.4,410.7 295.3,404.8 297.4,402.7 300,401.5 302.3,401.5 304.4,401.5 307.4,401.5 309.4,400.2 312.1,393.8 314.3,389.7 317.4,389.7 319.3,389.7 322.5,382.8 324.4,377.1 327.5,377.1 329.5,377.1 332.4,377.1 334.5,375.9 337.4,372.6 339.5,371.8 342.4,371.8 344.5,369.8 347.2,354.3 349.4,354.3 352.3,353.9 354.4,345.4 357.2,345.4 359.5,345.4 362.4,347.4 364.5,361.3 367.3,361.3 369.4,361.3 371.5,361.3 374.5,361.3 376.4,361.3 379.4,361.3 381.3,361.3 384.3,361.3 386.5,361.3 389,374.4 391.4,377.8 394.3,377.8 397,377.8 399.2,378.2 401.7,378.2 404.4,380.9 406.6,380.9 409.5,380.9 411.4,384.9 414.4,397.4 416.3,397.4 419.3,397.4 421.4,401.4 424.3,403.7 426.6,403.7 429.4,403.7 431.5,403.7 434.3,403.7 436.4,403.7 438.5,408.9 441.5,419.4 443.5,421.4 446.3,421.4 448.4,421.4 451.3,421.4 453.8,421.4 456.4,431.3 458.5,433.8 461.4,434.9 463.6,434.9 466.4,434.9 468.6,434.9 471.4,434.9 473.4,434.9 476.2,434.9 478.4,434.9 481.4,434.9 484.1,434.9 486.4,434.9 488.5,434.9 491.4,434.9 493.8,434.9 496.1,434.9 498.5,434.9 500.5,434.9 503.5,434.9 505.6,440.8 508.3,441.4 510.5,441.4 513.4,451.4 515.5,461.9 518.4,473.8 520.7,485.4 523.5,485.8 525.6,486.2 528.5,487.9 530.6,487.9 532.9,487.9 535.5,489.3 538.3,491.4 540.4,491.4 543.5,491.4 545.6,491.4 548.1,491.4 550.5,491.4 553.3,491.4 555.7,491.4 558.2,491.4 560.5,491.4 563.4,491.4 565.5,491.4 568.1,491.4 570.4,491.4 572.8,491.4 575.3,491.4 577.3,491.4 580.5,491.4 582.4,491.4 585.4,491.4 587.5,491.4 590.4,491.4 592.4,491.4 595.3,491.4 597.6,491.4 600.2,492.8 602.5,499.4 605.4,499.6 607.5,494.9 610.4,489.8 612.4,483.7 615.5,481.6 617.4,478.2 620.4,465.8 622.4,459.9 625.4,459.9 627.3,459.9 630.2,459.9 632.4,459.9 634.3,458.9 637.6,458.9 639.5,458.9 642.5,458.9 644.4,458.9 647.5,447.4 649.5,435.5 652.4,419.8 654.3,417.2 657.3,417.2 659.4,414.5 662.3,413.1 664.4,413.1 667.4,412.7 669.5,411.3 672.4,405.8 674.5,401.9 677.5,401.3 679.9,401.3 682.4,397.4 684.5,391.4 687.4,390.9 689.5,388.9 692.5,377.9 694.6,377.9 696.5,377.9 699,377.9 701.4,377.8 704.3,377.5 706.6,375.1 709.4,368.1 711.5,358.1 714.4,356.5 716.6,356.5 719.5,356.5 721.6,356.5 724.7,355.5 726.7,355.5 729.6,353.5 731.5,350.1 734.5,339.6 736.6,332.5 739.5,327.1 741.5,323.8 744.6,323.8 746.7,315 749.5,311.4 751.6,311.4 754.2,311.4 756.4,311.4 759.3,311.4 761.4,311.4 763.4,311.4 766.3,311.4 768.8,305.6 771.1,301.5 773.5,297 776.3,288.1 778.4,288.9 781.2,293 783.4,295.4 785.7,295.4 788.5,296.2 791.1,300.7 793.4,301.1 796.3,301.1 798.4,301.1 801.4,302.9 803.6,313 806.4,313 808.5,313 811.4,313 813.6,319.5 816.3,319.5 818.6,319.5 821.2,319.5 823.3,326 825.9,329.4 828.4,329.4 830.5,332.2 833.4,332.2 835.9,332.2 838.3,332.2 840.4,332.2 843.5,332.2 845.7,332.2 848.6,332.2 850.9,332.2 853.3,332.2 855.4,332.2 858.5,332.2 861,332.2 863.4,332.2 865.5,333.1 868.5,337.1 870.6,342.5 873.2,342.5 875.5,344.9 878.4,351 880.5,360.1 883.4,368.1 885.5,371.4 888.3,371.5 890.5,372.1 893.5,376.6 895.5,378.5 897.6,381.5 900.5,386 902.6,397.4 905.4,400.2 907.7,402 910.4,405.3 912.6,407.8 915.5,409.4 917.4,415.5 920,417.3 922.5,420.6 925.3,421.6 927.5,422.9 930.3,424.3 932.4,424.3 935.4,424.3 937.5,424.3 939.9,424.3 942.4,424.3 944.8,424.3 947.4,426.9 950.5,434.4 952.6,438.7 955.4,449.6 958.5,449.6 960.5,449.6 962.4,450.6 964.5,450.6 967.3,452.9 969.4,457.4 972.3,457.4 974.4,457.4 977.7,457.4 979.7,457.4 982.2,457.4 984.6,457.5 987.5,459.4 990.1,459.4 992.2,461.1 994.6,462 997.4,466.3 999.7,466.3 1002.5,467.1 1004.6,467.3 1007.5,467.3 1009.4,467.3 1012.3,467.3 1014.4,467.3 1017.9,467.3 1020,467.3 1022.5,467.3 1024.4,467.3 1026.9,467.3 1029.7,467.3 1031.6,467.3 1034.5,467.3 1036.5,467.3 1039.4,455.5 1041.4,446.4 1044.3,446.4 1046.4,437 1049.4,434.9 1051.3,434.9 1054.3,434.9 1056.7,423.6" stroke="rgba(244,67,54,0.85)"/>
<polyline points="1.1,564.2 3.9,565.6 6.7,570.1 12.3,578.5 15.7,585 19.6,585.4 21.8,590.8 26.9,592.5 30.2,598.1 31.3,599.2 34.2,599.2 36.2,599.2 39.1,599.2 41.4,599.2 43.3,607.9 46.6,616.3 48.5,621.4 51.5,621.4 53.4,622.6 56.4,623.4 58.3,626.9 61.2,630 63.5,633.4 66.4,633.4 68.4,633.4 71.3,632.4 73.3,627.9 76.2,625.9 78.5,613.6 81.4,613.6 83.4,613.6 86.3,613.6 88.6,613.6 91.5,613.2 93.5,612.7 96.4,605.1 98.4,594.8 101.3,586 103.3,581.5 106.2,579.5 108.1,576.2 110.7,567.6 113.5,567.2 115.6,562.8 118.6,555.8 120.5,535 122.9,528.6 125.3,526.5 128.2,524.1 130.2,515 133.1,514.5 135.2,514.5 138.2,509.8 140.1,503.3 143.2,499.2 145.2,496.9 148.3,494.2 150.2,487.3 153.3,472.6 155.3,468.9 158.2,468.9 160.5,463.3 163.4,449.4 165.4,441.9 168.3,440.2 170.3,434.4 173.3,423.7 175.4,395.9 177.4,393.5 180.3,388.9 182.4,372.2 185.3,361.4 187.3,351.5 190.2,343.5 192.3,326.6 195.3,311.3 197.2,305.6 200.5,305.1 202.4,305.1 205.4,305.1 207.5,305.1 210.3,305.1 212.4,305.1 215.3,305.1 217.3,318.2 220.4,321.6 222.3,322.9 225.2,322.9 227.4,323.3 230.3,333.6 232.4,348.4 235,348.4 237.3,360.4 239.4,369 242.4,381.5 244.4,381.5 247.1,381.5 249.3,385 252.4,391.4 254.3,388.4 257.5,386.7 259.4,385.1 262.5,380 264.5,367.1 267.4,366.4 269.5,369.3 272.4,378.1 274.5,378.1 277.4,378.1 279.5,378.1 282.2,378.1 284.4,388 287.3,390.5 289.4,397.3 292.2,400 294.5,400 297.4,402.9 299.5,416.8 302.3,416.8 304.4,416.8 306.5,422.8 309.5,420.7 311.4,419.8 314.4,419.8 316.3,417.6 319.3,414.4 321.5,412.3 324,405.6 326.4,399.5 329.3,389.5 332,386.9 334.2,396.8 336.7,397.6 339.4,397.6 341.6,400.1 344.5,402.1 346.4,409.4 349.4,421 351.3,422.4 354.3,425.8 356.4,434.4 359.3,436.8 361.6,436.8 364.4,438.2 366.5,444.2 369.3,452.1 371.4,453.1 373.5,460 376.5,473.1 378.5,477.8 381.3,477.8 383.4,477.8 386.3,477.8 388.8,477.8 391.4,477.8 393.5,474.3 396.4,462.8 398.6,462.8 401.4,457.3 403.6,457.3 406.4,457.3 408.4,456.9 411.2,453 413.4,445.5 416.4,428.4 419.1,428.7 421.4,428.7 423.5,439 426.4,441.9 428.8,443.3 431.1,449.9 433.5,453.2 435.5,458.8 438.5,464.8 440.6,477.1 443.3,479.9 445.5,489.9 448.4,497.4 450.5,506.9 453.4,517.9 455.7,522.9 458.5,526.9 460.6,529.8 463.5,534.2 465.6,531.4 467.9,531.4 470.5,529 473.3,529 475.4,526.8 478.5,519.1 480.6,504.6 483.1,502.1 485.5,502.1 488.3,502.1 490.7,502.1 493.2,503.4 495.5,510.8 498.4,510.8 500.5,510.7 503.1,509.9 505.4,509.9 507.8,509.9 510.3,509.9 512.3,509.9 515.5,505.4 517.4,495.4 520.4,485 522.5,485 525.4,483.2 527.4,483.2 530.3,483.1 532.6,482.9 535.2,480.4 537.5,473.4 540.4,455.4 542.5,444.5 545.4,439.3 547.4,433.2 550.5,431.1 552.4,426.8 555.4,414.4 557.4,406.4 560.4,403 562.3,392.5 565.2,385.4 567.4,380.1 569.3,375.8 572.6,375.8 574.5,367 577.5,363.4 579.4,363.4 582.5,354.1 584.5,349.9 587.4,348.6 589.3,348.6 592.3,348.6 594.4,345.9 597.3,338.7 599.4,334.6 602.4,329.8 604.5,319.4 607.4,312.2 609.5,308.3 612.5,307.8 614.9,305.9 617.4,296.9 619.5,290.9 622.4,289.8 624.5,287.9 627.5,274.2 629.6,274.2 631.5,274.2 634,274.2 636.4,270.6 639.3,265.5 641.6,265.5 644.4,266.5 646.5,274.4 649.4,274.4 651.6,280.9 654.5,284.3 656.6,292.4 659.7,298.9 661.7,298.9 664.6,298.9 666.5,304.9 669.5,297.2 671.6,295.5 674.5,295.5 676.5,295.5 679.6,295.5 681.7,294.4 684.5,293.5 686.6,293.5 689.2,293 691.4,300.2 694.3,301.3 696.4,305.4 698.4,310.7 701.3,310.7 703.8,312.2 706.1,315.1 708.5,318.1 711.3,323.4 713.4,327 716.2,331.1 718.4,333.9 720.7,333.9 723.5,335.1 726.1,339.6 728.4,340.1 731.3,340.7 733.4,343.5 736.4,347.1 738.6,360.4 741.4,360.4 743.5,360.4 746.4,364.5 748.6,372.8 751.3,372.8 753.6,372.8 756.2,374 758.3,378.3 760.9,382.6 763.4,382.4 765.5,376.5 768.4,375.5 770.9,375.1 773.3,373.8 775.4,372.4 778.5,369.4 780.7,372.4 783.6,375.1 785.9,375.1 788.3,375.1 790.4,376.1 793.5,376.1 796,378.3 798.4,382.8 800.5,382.8 803.5,382.8 805.6,382.1 808.2,382 810.5,384.1 813.4,387.5 815.5,395.6 818.4,398.3 820.5,400.9 823.3,401.9 825.5,406.2 828.5,410.9 830.5,413.1 832.6,418.6 835.5,426.4 837.6,443.2 840.4,444.9 842.7,444.9 845.4,444.9 847.6,449.4 850.5,455.6 852.4,458.8 855,462.1 857.5,470.2 860.3,474.4 862.5,474.4 865.3,474.7 867.4,480.6 870.4,484.3 872.5,485.3 874.9,485.3 877.4,485.3 879.8,485.3 882.4,487.9 885.5,495.4 887.6,499.7 890.4,511.6 893.5,513.2 895.5,513.2 897.4,513.5 899.5,513.7 902.3,515 904.4,507.1 907.3,500.6 909.4,482.1 912.7,471.2 914.7,466.2 917.2,461.7 919.6,455.2 922.5,451.2 925.1,449 927.2,430.2 929.6,424 932.4,405.1 934.7,405.1 937.5,405.1 939.6,405.5 942.5,408 944.4,410.4 947.3,410.4 949.4,410 952.9,406.9 955,402.5 957.5,402.5 959.4,402.5 961.9,402.5 964.7,403.8 966.6,411.6 969.5,411.6 971.5,411.6 974.4,397.4 976.4,388.2 979.3,388.2 981.4,378.9 984.4,376.8 986.3,376.8 989.3,376.8 991.7,362.7" stroke="rgba(33,150,243,0.8)"/>
<polyline points="1.1,537.6 10.1,537.6 14.6,544.9 18.5,547.7 21.8,558.9 26.3,569.3 29.7,569.9 34.7,577.4 41.4,578.5 44.8,588.6 48.9,606.3 52.1,609.6 57,612.8 62.7,614.5 63.5,615.5 66.4,615.5 68.4,615.5 71.3,615.5 73.3,621.4 76.2,621.4 78.5,621.4 81.4,621.4 83.4,621.4 86.3,621.4 88.6,621.4 91.5,621.4 93.5,621.4 96.4,622.6 98.4,613.5 101.3,605.1 103.3,603 106.2,601 108.1,598.6 110.7,595.4 113.5,594.9 115.6,590.4 118.6,588.4 120.5,566.9 122.9,566.5 125.3,566.5 128.2,565.2 130.2,556.1 133.1,555.6 135.2,555.6 138.2,552.1 140.1,552.1 143.2,551.7 145.2,546.9 148.3,544.2 150.2,543.5 153.3,529.2 155.3,525.5 158.2,521 160.5,508.4 163.4,484.2 165.4,474 168.3,471.1 170.3,464.1 173.3,455.4 175.4,443.1 177.4,440.6 180.3,435.2 182.4,421.3 185.3,417.2 187.3,407.2 190.2,404.3 192.3,387.1 195.3,377.1 197.2,377.1 200.5,377.1 202.4,377.1 205.4,375.9 207.5,372.6 210.3,371.8 212.4,371.8 215.3,369.8 217.3,354.3 220.4,354.3 222.3,353.9 225.2,344.8 227.4,333.9 230.3,333.9 232.4,328.9 235,328.8 237.3,340.9 239.4,345.4 242.4,345.4 244.4,345.4 247.1,345.4 249.3,345.4 252.4,345.4 254.3,345.4 257.5,345.4 259.4,358.5 262.5,361.9 264.5,361.9 267.4,361.9 269.5,362.3 272.4,362.3 274.5,365 277.4,365 279.5,365 282.2,369 284.4,381.5 287.3,381.5 289.4,381.5 292.2,385 294.5,385 297.4,387 299.5,400.9 302.3,400.9 304.4,400.9 306.5,400.9 309.5,400.9 311.4,400.9 314.4,400.9 316.3,400.9 319.3,400.9 321.5,400.9 324,400.9 326.4,410.8 329.3,413.3 332,414.4 334.2,414.4 336.7,414.4 339.4,414.4 341.6,414.4 344.5,414.4 346.4,414.4 349.4,414.4 351.3,414.4 354.3,414.4 356.4,414.9 359.3,417.2 361.6,417.2 364.4,417.2 366.5,417.2 369.3,417.2 371.4,417.2 373.5,422.4 376.5,432.9 378.5,434.9 381.3,434.9 383.4,437.3 386.3,439.3 388.8,440.3 391.4,452 393.5,452.3 396.4,452.8 398.6,454.4 401.4,454.4 403.6,454.4 406.4,455.9 408.4,457.9 411.2,457.9 413.4,457.9 416.4,457.9 419.1,457.9 421.4,457.9 423.5,457.9 426.4,457.9 428.8,457.9 431.1,457.9 433.5,457.9 435.5,457.9 438.5,457.9 440.6,463.9 443.3,464.5 445.5,464.5 448.4,472 450.5,480.5 453.4,491.4 455.7,491.4 458.5,491.4 460.6,491.4 463.5,491.4 465.6,491.4 467.9,491.4 470.5,492.8 473.3,499.4 475.4,499.6 478.5,500.8 480.6,504.6 483.1,504.6 485.5,506.8 488.3,516.8 490.7,516.8 493.2,517.8 495.5,517.9 498.4,522.9 500.5,526.9 503.1,529 505.4,529 507.8,529 510.3,529 512.3,529 515.5,529 517.4,520.5 520.4,504.1 522.5,489.6 525.4,485.3 527.4,485.3 530.3,485.3 532.6,485.3 535.2,485.3 537.5,485.3 540.4,477.3 542.5,468 545.4,462.8 547.4,456.8 550.5,454.6 552.4,451.2 555.4,438.8 557.4,432.9 560.4,432.5 562.3,430.9 565.2,430.9 567.4,430.9 569.3,429.9 572.6,429.8 574.5,429.5 577.5,427.1 579.4,420.1 582.5,400.9 584.5,394.9 587.4,393.7 589.3,393.7 592.3,393.7 594.4,390 597.3,388.6 599.4,386.6 602.4,382.8 604.5,370.9 607.4,358.4 609.5,349.1 612.5,345.1 614.9,345.1 617.4,332.4 619.5,322.8 622.4,322.4 624.5,320.8 627.5,311.4 629.6,311.4 631.5,311.4 634,311.4 636.4,311.4 639.3,305.6 641.6,301.5 644.4,297 646.5,288.1 649.4,286.4 651.6,286.4 654.5,286.4 656.6,284.6 659.7,282.8 661.7,282.8 664.6,282.8 666.5,282.8 669.5,282.8 671.6,282.8 674.5,282.8 676.5,282.8 679.6,282.8 681.7,282.8 684.5,282.8 686.6,282.8 689.2,282.8 691.4,287.5 694.3,294.2 696.4,297.6 698.4,297.6 701.3,300.5 703.8,300.5 706.1,300.5 708.5,300.5 711.3,300.5 713.4,301.7 716.2,305.8 718.4,308.2 720.7,308.2 723.5,309 726.1,313.5 728.4,313.9 731.3,313.9 733.4,313.9 736.4,316.5 738.6,330.6 741.4,336 743.5,336 746.4,337.5 748.6,346.9 751.3,349.8 753.6,355.1 756.2,357.6 758.3,357.6 760.9,358 763.4,358 765.5,358.4 768.4,358.4 770.9,358.4 773.3,359 775.4,361.8 778.5,363.6 780.7,366.9 783.6,366.9 785.9,366.9 788.3,371 790.4,372.8 793.5,372.8 796,372.8 798.4,374 800.5,375.5 803.5,375.5 805.6,375.5 808.2,375.5 810.5,376.4 813.4,379.6 815.5,385.8 818.4,388.5 820.5,389.4 823.3,389.4 825.5,389.6 828.5,394.1 830.5,395.6 832.6,399.6 835.5,404.1 837.6,417.1 840.4,421.6 842.7,421.6 845.4,421.6 847.6,424.1 850.5,425.7 852.4,427.7 855,427.9 857.5,433 860.3,434.1 862.5,435.9 865.3,436.8 867.4,441 870.4,441 872.5,441.9 874.9,444.4 877.4,447.6 879.8,453.7 882.4,457.9 885.5,465.4 887.6,469.8 890.4,482.7 893.5,487.2 895.5,488.4 897.4,491.7 899.5,496.6 902.3,499.6 904.4,499.6 907.3,500 909.4,482.1 912.7,472.6 914.7,471.8 917.2,467.3 919.6,467.3 922.5,467.3 925.1,467.3 927.2,467.3 929.6,467.3 932.4,467.3 934.7,467.3 937.5,467.3 939.6,467.3 942.5,467.3 944.4,467.3 947.3,467.3 949.4,467.3 952.9,467.3 955,466 957.5,461.7 959.4,461.7 961.9,455.2 964.7,451.2 966.6,449 969.5,430.2 971.5,424 974.4,397.4 976.4,388.2 979.3,388.2 981.4,378.9 984.4,376.8 986.3,376.8 989.3,376.8 991.7,365.4" stroke="rgba(153,21,21,0.75)"/>
<polyline points="-63.1,589 -60.4,573.7 -58,569.2 -55.6,580.6 -53.6,591.7 -50.7,603.4 -48.1,598.2 -45.5,602.2 -43.5,615.8 -40.6,610 -38.6,592.1 -35.7,590 -33.7,584.3 -30.8,585.1 -28.8,596.5 -25.9,595.7 -23.6,612.8 -21.7,634.8 -18.4,651.6 -16.5,661.7 -13.5,652.7 -11.6,649.8 -8.6,625 -6.7,611.2 -3.8,621 -1.5,624.2 1.4,618.2 3.4,611.2 6.3,607.9 8.3,616.1 11.2,621.8 13.5,624.2 16.4,616.1 18.4,616.9 21.3,618.5 23.6,607.1 26.5,605.5 28.5,601.1 31.4,586 33.4,565.3 36.3,548.5 38.3,544.4 41.2,540.4 43.1,535.5 45.7,529 48.5,538.7 50.6,539.5 53.6,531 55.5,509.5 57.9,508.7 60.3,518.4 63.2,506.2 65.2,490.7 68.1,489.4 70.2,490.4 73.2,485.9 75.1,493.2 78.2,485 80.2,475.3 83.3,482.6 85.2,479.3 88.3,452.1 90.3,444.7 93.2,447.6 95.5,433.4 98.4,408 100.4,406.9 103.3,397.9 105.3,386.2 108.3,368.9 110.4,344.1 112.4,347.7 115.3,330.9 117.4,318.7 120.3,319.2 122.3,296.1 125.2,290.2 127.3,269.5 130.3,272 132.2,312.7 135.5,334.7 137.4,314 140.4,298 142.5,302.1 145.3,300.8 147.4,313.5 150.3,309.9 152.3,306.7 155.4,339.6 157.3,351.8 160.2,333.6 162.4,341.2 165.3,372.5 167.4,396.6 170,389.3 172.3,420.7 174.4,425.7 177.4,395 179.4,394.1 182.1,389 184.3,382.8 187.4,353 189.3,351 192.5,343.6 194.4,340.4 197.5,360 199.5,368.1 202.4,365 204.5,398.5 207.4,416 209.5,382 212.4,383.8 214.5,383.3 217.2,371.9 219.4,383.8 222.3,407.3 224.4,426.5 227.2,424.9 229.5,418 232.4,433.9 234.5,461.6 237.3,444.1 239.4,431.9 241.5,414 244.5,379.8 246.4,389.1 249.4,384.5 251.3,373.6 254.3,367.1 256.5,381.8 259,376 261.4,400 264.3,406.7 267,402 269.2,426.5 271.7,423.3 274.4,407 276.6,410.3 279.5,418.4 281.4,440.7 284.4,437 286.3,442.8 289.3,448.5 291.4,462.7 294.3,467.3 296.6,459 299.4,460.7 301.5,464 304.3,454 306.4,459 308.5,477.7 311.5,498.6 313.5,502.6 316.3,499.8 318.4,490 321.3,501.4 323.8,493.3 326.4,479 328.5,446 331.4,425 333.6,428 336.4,413.2 338.6,414.3 341.4,415.4 343.4,430.7 346.2,429.3 348.4,432.6 351.4,443.7 354.1,442.8 356.4,444 358.5,464.8 361.4,468.7 363.8,464 366.1,466 368.5,476.7 370.5,485.6 373.5,490 375.6,514.5 378.3,510.9 380.5,510.1 383.4,530.7 385.5,547.8 388.4,569.5 390.7,551.9 393.5,528 395.6,507.1 398.5,499 400.6,493.3 402.9,494.9 405.5,490 408.3,509.6 410.4,515.6 413.5,510.4 415.6,507.1 418.1,508 420.5,514.8 423.3,508.4 425.7,509.6 428.2,509.6 430.5,515.6 433.4,509.3 435.5,505.8 438.1,504.2 440.4,508.8 442.8,511.5 445.3,509.1 447.3,510.7 450.5,495.2 452.4,476.1 455.4,458.5 457.5,464.6 460.4,455 462.4,467.5 465.3,465 467.6,466.7 470.2,463 472.5,458 475.4,439 477.5,420.3 480.4,410 482.4,397.9 485.5,401.9 487.4,386.9 490.4,362 492.4,357.9 495.4,355.1 497.3,361.4 500.2,366 502.4,352.1 504.3,348.4 507.6,375.8 509.5,369.3 512.5,358.3 514.4,352.1 517.5,329.8 519.5,321.2 522.4,322.5 524.3,327.7 527.3,325.3 529.4,313.4 532.3,314.7 534.4,312.7 537.4,309.8 539.5,307 542.4,296 544.5,288.1 547.5,299.7 549.9,299.2 552.4,279.2 554.5,267.1 557.4,274.3 559.5,263.1 562.5,244.3 564.6,254.4 566.5,266.6 569,264.2 571.4,285.7 574.3,286.7 576.6,279.2 579.4,288.6 581.5,304.4 584.4,300 586.6,296 589.5,298.4 591.6,320.7 594.7,317.9 596.7,315.2 599.6,317.1 601.5,304.9 604.5,273.2 606.6,269.9 609.5,279.7 611.5,292.7 614.6,294.7 616.7,290.3 619.5,299.9 621.6,304.2 624.2,316.2 626.4,330.6 629.3,327.8 631.4,320.5 633.4,321.3 636.3,329.8 638.8,328.6 641.1,325.4 643.5,322.1 646.3,329.4 648.4,333.5 651.2,341.7 653.4,346.5 655.7,339.2 658.5,348.2 661.1,357.1 663.4,358 666.3,353.9 668.4,354 671.4,361.5 673.6,381.6 676.4,381.6 678.5,377.2 681.4,380.7 683.6,394.6 686.3,390.2 688.6,388.6 691.2,381.9 693.3,373.4 695.9,370.7 698.4,373.7 700.5,358.3 703.4,361.5 705.9,363.6 708.3,365 710.4,371.8 713.5,382.4 715.7,388.4 718.6,393.8 720.9,387.6 723.3,377.5 725.4,371.8 728.5,377.5 731,375.9 733.4,379.9 735.5,381.9 738.5,391.3 740.6,391.8 743.2,392.1 745.5,396.5 748.4,402.8 750.5,415.3 753.4,420.7 755.5,422.4 758.3,418.4 760.5,422.8 763.5,432 765.5,434.8 767.6,440.8 770.5,449.9 772.6,471.4 775.4,466.5 777.7,456.4 780.4,469.5 782.6,476.3 785.5,479.6 787.4,483.6 790,480.4 792.5,490.2 795.3,492.3 797.5,483.3 800.3,478.8 802.4,480.4 805.4,485.3 807.5,485.8 809.9,483.6 812.4,486.1 814.8,487.4 817.4,497.5 820.5,512.5 822.6,521.1 825.4,542.9 828.5,531.7 830.5,531.7 832.4,519.2 834.5,510.5 837.3,508 839.4,471.4 842.3,458.4 844.4,421.3 847.7,402.3 849.7,400.7 852.2,391.7 854.6,397.6 857.5,406.4 860.1,403.8 862.2,402.2 864.6,418.6 867.4,408.4 869.7,405 872.5,407.3 874.6,404.5 877.5,406.4 879.4,408.3 882.3,405.7 884.4,401.3 887.9,397.5 890,396.7 892.5,399.1 894.4,402.4 896.9,405.6 899.7,410.8 901.6,426.5 904.5,421.1 906.5,405.1 909.4,368.2 911.4,352.7 914.3,357.6 916.4,331.2 919.4,332.7 921.3,338.5 924.3,334 926.7,304.3" stroke="rgba(69,153,21,0.75)"/>
</g>
<polygon points="627.2,248.8 1150,-50.1 1150,60.2 692.3,321.9" fill="rgba(21,21,170,0.22)"/>
<polygon points="692.3,321.9 1150,60.2 1150,280.9 822.5,468.1" fill="rgba(20,160,20,0.22)"/>
<polygon points="822.5,468.1 1150,280.9 1150,391.2 887.6,541.2" fill="rgba(21,21,170,0.22)"/>
<g fill="none" stroke-width="1.0">
<polyline points="627.2,248.8 1150,-50.1" stroke="#1414b4" stroke-width="1.0"/>
<polyline points="887.6,541.2 1150,391.2" stroke="#1414b4" stroke-width="1.0"/>
<polyline points="692.3,321.9 1150,60.2" stroke="#0f9a0f" stroke-width="1.0"/>
<polyline points="822.5,468.1 1150,280.9" stroke="#0f9a0f" stroke-width="1.0"/>
<polyline points="453.4,568.8 1150,170.6" stroke="#a01818"/>
<polyline points="627.2,248.8 887.6,541.2" stroke="#a01818"/>
</g>
<line x1="0" y1="304.5" x2="1144" y2="304.5" stroke="#26a69a" stroke-width="1" stroke-dasharray="2 1.7"/>
<line x1="888" y1="430.7" x2="1046.2" y2="207.6" stroke="#000" stroke-width="2.0" stroke-linecap="butt"/>
<line x1="887.8" y1="544.8" x2="1046.1" y2="321.7" stroke="#000" stroke-width="2.0" stroke-linecap="butt"/>
<line x1="888" y1="487.7" x2="1046.6" y2="265" stroke="#2196f3" stroke-width="2.0" stroke-dasharray="10.2 11.7"/>
<ellipse cx="1018.9" cy="245.9" rx="17.2" ry="11" fill="rgba(255,255,0,0.55)" stroke="#000" stroke-width="1.4"/>
<path d="M31.5 581V590.8M39.5 592V598.2M58.5 605V614.5M71.5 603V609.6M130.5 488V504.6M133.5 487V492.4M182.5 316V326.5M190.5 290.2V298.9M205.5 294V309.4M279.5 383.3V389M396.5 423V439.8M470.5 488.5V492M976.5 350V362.5" stroke="#26a69a" stroke-width="1" fill="none"/>
<path d="M138.5 480V485.9M148.5 470V482.6M177.5 339.3V350.2M185.5 317.1V325M195.5 261V272M200.5 330.1V349.3M210.5 294.8V300.8M217.5 300.2V306.7M239.5 418.4V429.8M244.5 388.4V394.1M254.5 347V352.6M398.5 425.1V431M421.5 439.6V444M426.5 464.8V470.5M557.5 350.2V357.9M565.5 363.1V371.7M746.5 374.2V380.7M984.5 327V332.7" stroke="#ef5350" stroke-width="1" fill="none"/>
<g>
<path d="M0 586h3V589h-3Z" fill="#ef5350"/>
<path d="M3 573.7h3V584.3h-3ZM6 569.2h3V573.7h-3Z" fill="#26a69a"/>
<path d="M8 569.2h3V580.6h-3ZM10 583.2h3V591.7h-3ZM13 595.2h3V603.4h-3Z" fill="#ef5350"/>
<path d="M15 598.2h3V602.2h-3Z" fill="#26a69a"/>
<path d="M18 595.2h3V602.2h-3ZM20 604.4h3V615.8h-3Z" fill="#ef5350"/>
<path d="M23 610h3V617.4h-3ZM25 592.1h3V607.6h-3Z" fill="#26a69a"/>
<path d="M28 587.6h3V590h-3Z" fill="#ef5350"/>
<path d="M30 584.3h3V590.8h-3Z" fill="#26a69a"/>
<path d="M33 583.5h3V585.1h-3ZM35 585.1h3V596.5h-3Z" fill="#ef5350"/>
<path d="M38 595.7h3V598.2h-3Z" fill="#26a69a"/>
<path d="M40 598.2h3V612.8h-3ZM42 617.2h3V634.8h-3ZM45 638.1h3V651.6h-3ZM47 653.2h3V661.7h-3Z" fill="#ef5350"/>
<path d="M50 652.7h3V661.7h-3ZM52 649.8h3V652.7h-3ZM55 625h3V648.7h-3ZM57 611.2h3V614.5h-3Z" fill="#26a69a"/>
<path d="M60 612.3h3V621h-3ZM62 618.5h3V624.2h-3Z" fill="#ef5350"/>
<path d="M65 618.2h3V623.4h-3ZM67 611.2h3V615.3h-3ZM70 607.9h3V609.6h-3Z" fill="#26a69a"/>
<path d="M72 608.3h3V616.1h-3ZM75 615.3h3V621.8h-3ZM77 621h3V624.2h-3Z" fill="#ef5350"/>
<path d="M80 616.1h3V623.4h-3Z" fill="#26a69a"/>
<path d="M82 613.6h3V616.9h-3ZM85 616.9h3V618.5h-3Z" fill="#ef5350"/>
<path d="M87 607.1h3V616.9h-3Z" fill="#26a69a"/>
<path d="M90 602.2h3V605.5h-3Z" fill="#ef5350"/>
<path d="M92 601.1h3V606.3h-3ZM95 586h3V597.4h-3ZM97 565.3h3V583.5h-3ZM100 548.5h3V560.4h-3ZM102 544.4h3V548.5h-3ZM105 540.4h3V544.4h-3ZM107 535.5h3V540.4h-3ZM109 529h3V536.3h-3Z" fill="#26a69a"/>
<path d="M112 528.1h3V538.7h-3Z" fill="#ef5350"/>
<path d="M114 539.5h3V542h-3ZM117 531h3V539.5h-3ZM119 509.5h3V526.6h-3ZM121 508.7h3V509.7h-3Z" fill="#26a69a"/>
<path d="M124 508.7h3V518.4h-3Z" fill="#ef5350"/>
<path d="M127 506.2h3V518.4h-3ZM129 490.7h3V504.6h-3ZM132 489.4h3V492.4h-3ZM134 490.4h3V493.2h-3Z" fill="#26a69a"/>
<path d="M137 482.9h3V485.9h-3ZM139 485.9h3V493.2h-3Z" fill="#ef5350"/>
<path d="M142 485h3V490.7h-3ZM144 475.3h3V484.2h-3Z" fill="#26a69a"/>
<path d="M147 473.6h3V482.6h-3Z" fill="#ef5350"/>
<path d="M149 479.3h3V482.6h-3ZM152 452.1h3V478.5h-3ZM154 444.7h3V447.6h-3Z" fill="#26a69a"/>
<path d="M157 444.7h3V447.6h-3Z" fill="#ef5350"/>
<path d="M159 433.4h3V446.8h-3ZM162 408h3V428.5h-3Z" fill="#26a69a"/>
<path d="M164 399.5h3V406.9h-3Z" fill="#ef5350"/>
<path d="M167 397.9h3V406.9h-3ZM169 386.2h3V396.8h-3ZM172 368.9h3V383.6h-3ZM174 344.1h3V361.6h-3Z" fill="#26a69a"/>
<path d="M176 339.3h3V347.7h-3Z" fill="#ef5350"/>
<path d="M179 330.9h3V346.9h-3ZM181 318.7h3V326.5h-3Z" fill="#26a69a"/>
<path d="M184 317.1h3V319.2h-3Z" fill="#ef5350"/>
<path d="M186 296.1h3V316.8h-3ZM189 290.2h3V294h-3ZM191 269.5h3V287.8h-3Z" fill="#26a69a"/>
<path d="M194 265h3V272h-3ZM196 287.1h3V312.7h-3ZM199 330.1h3V334.7h-3Z" fill="#ef5350"/>
<path d="M201 314h3V331.4h-3ZM204 298h3V309.4h-3Z" fill="#26a69a"/>
<path d="M206 298.9h3V302.1h-3ZM209 298.9h3V300.8h-3ZM211 302.1h3V313.5h-3Z" fill="#ef5350"/>
<path d="M214 309.9h3V312.7h-3Z" fill="#26a69a"/>
<path d="M216 305h3V306.7h-3ZM219 308.1h3V339.6h-3ZM221 339.3h3V351.8h-3Z" fill="#ef5350"/>
<path d="M224 333.6h3V350.7h-3Z" fill="#26a69a"/>
<path d="M226 333.1h3V341.2h-3ZM229 340.1h3V372.5h-3ZM231 373h3V396.6h-3Z" fill="#ef5350"/>
<path d="M234 389.3h3V395.8h-3Z" fill="#26a69a"/>
<path d="M236 390.1h3V420.7h-3ZM238 418.4h3V425.7h-3Z" fill="#ef5350"/>
<path d="M241 395h3V419.8h-3Z" fill="#26a69a"/>
<path d="M243 391.6h3V394.1h-3Z" fill="#ef5350"/>
<path d="M246 389h3V392.5h-3ZM248 382.8h3V392.6h-3ZM251 353h3V379h-3Z" fill="#26a69a"/>
<path d="M253 348.5h3V351h-3Z" fill="#ef5350"/>
<path d="M256 343.6h3V350.7h-3ZM258 340.4h3V342.8h-3Z" fill="#26a69a"/>
<path d="M261 340.1h3V360h-3ZM263 360h3V368.1h-3Z" fill="#ef5350"/>
<path d="M266 365h3V367.5h-3Z" fill="#26a69a"/>
<path d="M268 368.1h3V398.5h-3ZM271 398.1h3V416h-3Z" fill="#ef5350"/>
<path d="M273 382h3V408.6h-3Z" fill="#26a69a"/>
<path d="M276 376.8h3V383.8h-3Z" fill="#ef5350"/>
<path d="M278 383.3h3V385.1h-3ZM281 371.9h3V382.9h-3Z" fill="#26a69a"/>
<path d="M283 372h3V383.8h-3ZM286 383.9h3V407.3h-3ZM288 408h3V426.5h-3Z" fill="#ef5350"/>
<path d="M291 424.9h3V428.2h-3ZM293 418h3V425.7h-3Z" fill="#26a69a"/>
<path d="M296 417.3h3V433.9h-3ZM298 433h3V461.6h-3Z" fill="#ef5350"/>
<path d="M301 444.1h3V457.5h-3ZM303 431.9h3V444h-3ZM305 414h3V431.9h-3ZM308 379.8h3V411.9h-3Z" fill="#26a69a"/>
<path d="M310 378h3V389.1h-3Z" fill="#ef5350"/>
<path d="M313 384.5h3V390.7h-3ZM315 373.6h3V385h-3ZM318 367.1h3V372.8h-3Z" fill="#26a69a"/>
<path d="M320 372h3V381.8h-3Z" fill="#ef5350"/>
<path d="M322 376h3V381h-3Z" fill="#26a69a"/>
<path d="M325 378h3V400h-3ZM328 401.3h3V406.7h-3Z" fill="#ef5350"/>
<path d="M330 402h3V405.4h-3Z" fill="#26a69a"/>
<path d="M333 403h3V426.5h-3Z" fill="#ef5350"/>
<path d="M335 423.3h3V428.2h-3ZM338 407h3V421.7h-3Z" fill="#26a69a"/>
<path d="M340 406.2h3V410.3h-3ZM343 409.1h3V418.4h-3ZM345 421.2h3V440.7h-3Z" fill="#ef5350"/>
<path d="M348 437h3V440.4h-3Z" fill="#26a69a"/>
<path d="M350 438.8h3V442.8h-3ZM353 442.3h3V448.5h-3ZM355 447.7h3V462.7h-3ZM358 459h3V467.3h-3Z" fill="#ef5350"/>
<path d="M360 459h3V466h-3Z" fill="#26a69a"/>
<path d="M363 457.5h3V460.7h-3ZM365 460h3V464h-3Z" fill="#ef5350"/>
<path d="M368 454h3V463.7h-3Z" fill="#26a69a"/>
<path d="M370 453h3V459h-3ZM372 460h3V477.7h-3ZM375 478h3V498.6h-3ZM377 500.3h3V502.6h-3Z" fill="#ef5350"/>
<path d="M380 499.8h3V501.4h-3ZM382 490h3V498.5h-3Z" fill="#26a69a"/>
<path d="M385 489.2h3V501.4h-3Z" fill="#ef5350"/>
<path d="M387 493.3h3V500.6h-3ZM390 479h3V492.8h-3ZM392 446h3V477.8h-3ZM395 425h3V439.8h-3Z" fill="#26a69a"/>
<path d="M397 425.1h3V428h-3Z" fill="#ef5350"/>
<path d="M400 413.2h3V424.5h-3Z" fill="#26a69a"/>
<path d="M402 413.2h3V414.3h-3ZM405 413.2h3V415.4h-3ZM407 416.1h3V430.7h-3Z" fill="#ef5350"/>
<path d="M410 429.3h3V430.9h-3Z" fill="#26a69a"/>
<path d="M412 429.7h3V432.6h-3ZM415 432h3V443.7h-3Z" fill="#ef5350"/>
<path d="M418 442.8h3V444.2h-3Z" fill="#26a69a"/>
<path d="M420 441h3V444h-3ZM422 444.1h3V464.8h-3ZM425 464.8h3V468.7h-3Z" fill="#ef5350"/>
<path d="M427 464h3V467.5h-3ZM430 466h3V467.2h-3Z" fill="#26a69a"/>
<path d="M432 466.2h3V476.7h-3ZM434 476.2h3V485.6h-3ZM437 484.3h3V490h-3ZM439 490h3V514.5h-3Z" fill="#ef5350"/>
<path d="M442 510.9h3V515.8h-3Z" fill="#26a69a"/>
<path d="M444 505.5h3V510.1h-3ZM447 510.1h3V530.7h-3ZM449 531.1h3V547.8h-3ZM452 548.2h3V569.5h-3Z" fill="#ef5350"/>
<path d="M454 551.9h3V565h-3ZM457 528h3V549.8h-3ZM459 507.1h3V520.7h-3ZM462 499h3V507.1h-3ZM464 493.3h3V496.9h-3Z" fill="#26a69a"/>
<path d="M466 493.3h3V494.9h-3Z" fill="#ef5350"/>
<path d="M469 490h3V492h-3Z" fill="#26a69a"/>
<path d="M472 491.2h3V509.6h-3ZM474 512h3V515.6h-3Z" fill="#ef5350"/>
<path d="M477 510.4h3V514.8h-3ZM479 507.1h3V511.2h-3Z" fill="#26a69a"/>
<path d="M482 506h3V508h-3ZM484 506.8h3V514.8h-3Z" fill="#ef5350"/>
<path d="M487 508.4h3V514h-3Z" fill="#26a69a"/>
<path d="M489 508h3V509.6h-3ZM492 508h3V509.6h-3ZM494 508.4h3V515.6h-3Z" fill="#ef5350"/>
<path d="M497 509.3h3V514.8h-3ZM499 505.8h3V509.6h-3ZM502 504.2h3V506h-3Z" fill="#26a69a"/>
<path d="M504 504.2h3V508.8h-3ZM506 509.1h3V511.5h-3Z" fill="#ef5350"/>
<path d="M509 509.1h3V511.2h-3Z" fill="#26a69a"/>
<path d="M511 507.4h3V510.7h-3Z" fill="#ef5350"/>
<path d="M514 495.2h3V505.8h-3ZM516 476.1h3V491.9h-3ZM519 458.5h3V471.9h-3Z" fill="#26a69a"/>
<path d="M521 460.2h3V464.6h-3Z" fill="#ef5350"/>
<path d="M524 455h3V461h-3Z" fill="#26a69a"/>
<path d="M526 461h3V467.5h-3Z" fill="#ef5350"/>
<path d="M529 465h3V468.6h-3Z" fill="#26a69a"/>
<path d="M531 464.2h3V466.7h-3Z" fill="#ef5350"/>
<path d="M534 463h3V466.7h-3ZM536 458h3V462.6h-3ZM539 439h3V455.8h-3ZM541 420.3h3V434.9h-3ZM544 410h3V420.7h-3ZM546 397.9h3V410h-3Z" fill="#26a69a"/>
<path d="M549 393.7h3V401.9h-3Z" fill="#ef5350"/>
<path d="M551 386.9h3V403.2h-3ZM554 362h3V385.6h-3Z" fill="#26a69a"/>
<path d="M556 355.4h3V357.9h-3Z" fill="#ef5350"/>
<path d="M559 355.1h3V357.9h-3Z" fill="#26a69a"/>
<path d="M561 353.3h3V361.4h-3ZM564 363.1h3V366h-3Z" fill="#ef5350"/>
<path d="M566 352.1h3V362.7h-3ZM568 348.4h3V351.7h-3Z" fill="#26a69a"/>
<path d="M571 352.1h3V375.8h-3Z" fill="#ef5350"/>
<path d="M573 369.3h3V378.5h-3ZM576 358.3h3V366.8h-3ZM578 352.1h3V358.7h-3ZM581 329.8h3V349.7h-3ZM583 321.2h3V331.8h-3Z" fill="#26a69a"/>
<path d="M586 318.8h3V322.5h-3ZM588 321.2h3V327.7h-3Z" fill="#ef5350"/>
<path d="M591 325.3h3V328.5h-3ZM593 313.4h3V324.8h-3Z" fill="#26a69a"/>
<path d="M596 310.6h3V314.7h-3Z" fill="#ef5350"/>
<path d="M598 312.7h3V314.7h-3ZM601 309.8h3V313.4h-3ZM603 307h3V312.6h-3ZM606 296h3V302.8h-3ZM608 288.1h3V294h-3Z" fill="#26a69a"/>
<path d="M611 287h3V299.7h-3Z" fill="#ef5350"/>
<path d="M613 299.2h3V304.1h-3ZM616 279.2h3V296.8h-3ZM618 267.1h3V275.6h-3Z" fill="#26a69a"/>
<path d="M621 266.2h3V274.3h-3Z" fill="#ef5350"/>
<path d="M623 263.1h3V270.7h-3ZM626 244.3h3V259.8h-3Z" fill="#26a69a"/>
<path d="M628 244.3h3V254.4h-3ZM630 257.4h3V266.6h-3Z" fill="#ef5350"/>
<path d="M632 264.2h3V266.6h-3Z" fill="#26a69a"/>
<path d="M635 264.2h3V285.7h-3ZM638 285.4h3V286.7h-3Z" fill="#ef5350"/>
<path d="M640 279.2h3V284.9h-3Z" fill="#26a69a"/>
<path d="M643 276.7h3V288.6h-3ZM645 288.6h3V304.4h-3Z" fill="#ef5350"/>
<path d="M648 300h3V302.5h-3ZM650 296h3V301.7h-3Z" fill="#26a69a"/>
<path d="M653 296h3V298.4h-3ZM655 298.4h3V320.7h-3Z" fill="#ef5350"/>
<path d="M658 317.9h3V321.2h-3ZM660 315.2h3V318.8h-3Z" fill="#26a69a"/>
<path d="M663 314.2h3V317.1h-3Z" fill="#ef5350"/>
<path d="M665 304.9h3V317.1h-3ZM668 273.2h3V301.7h-3ZM670 269.9h3V273.2h-3Z" fill="#26a69a"/>
<path d="M673 271.5h3V279.7h-3ZM675 279.7h3V292.7h-3ZM678 292.4h3V294.7h-3Z" fill="#ef5350"/>
<path d="M680 290.3h3V293.5h-3Z" fill="#26a69a"/>
<path d="M683 293.4h3V299.9h-3ZM685 299.2h3V304.2h-3ZM688 305h3V316.2h-3ZM690 315.6h3V330.6h-3Z" fill="#ef5350"/>
<path d="M693 327.8h3V331.1h-3ZM695 320.5h3V327.3h-3ZM697 321.3h3V323h-3Z" fill="#26a69a"/>
<path d="M700 321.3h3V329.8h-3Z" fill="#ef5350"/>
<path d="M702 328.6h3V331.1h-3ZM705 325.4h3V328.6h-3ZM707 322.1h3V325.4h-3Z" fill="#26a69a"/>
<path d="M710 323.4h3V329.4h-3ZM712 329h3V333.5h-3ZM715 332.7h3V341.7h-3ZM717 341.7h3V346.5h-3Z" fill="#ef5350"/>
<path d="M719 339.2h3V342.5h-3Z" fill="#26a69a"/>
<path d="M722 339.2h3V348.2h-3ZM725 347.4h3V357.1h-3ZM727 355.5h3V358h-3Z" fill="#ef5350"/>
<path d="M730 353.9h3V357.6h-3Z" fill="#26a69a"/>
<path d="M732 351h3V354h-3ZM735 353.4h3V361.5h-3ZM737 362h3V381.6h-3ZM740 376.7h3V381.6h-3Z" fill="#ef5350"/>
<path d="M742 377.2h3V381.6h-3Z" fill="#26a69a"/>
<path d="M745 378h3V380.7h-3ZM747 380.3h3V394.6h-3Z" fill="#ef5350"/>
<path d="M750 390.2h3V393.8h-3ZM752 388.6h3V391.3h-3ZM755 381.9h3V388.4h-3ZM757 373.4h3V381.9h-3ZM759 370.7h3V373.4h-3Z" fill="#26a69a"/>
<path d="M762 370.2h3V373.7h-3Z" fill="#ef5350"/>
<path d="M764 358.3h3V371.3h-3Z" fill="#26a69a"/>
<path d="M767 356.3h3V361.5h-3ZM769 358.8h3V363.6h-3ZM772 358.4h3V365h-3ZM774 362.8h3V371.8h-3ZM777 372.1h3V382.4h-3ZM779 381.6h3V388.4h-3ZM782 388.1h3V393.8h-3Z" fill="#ef5350"/>
<path d="M784 387.6h3V392.5h-3ZM787 377.5h3V387.3h-3ZM789 371.8h3V377.5h-3Z" fill="#26a69a"/>
<path d="M792 372.1h3V377.5h-3Z" fill="#ef5350"/>
<path d="M794 375.9h3V378.3h-3Z" fill="#26a69a"/>
<path d="M797 375.9h3V379.9h-3ZM799 379.4h3V381.9h-3ZM802 381.2h3V391.3h-3ZM804 389.7h3V391.8h-3ZM807 389.7h3V392.1h-3ZM809 391.4h3V396.5h-3ZM812 396.5h3V402.8h-3ZM814 402.8h3V415.3h-3ZM817 415.1h3V420.7h-3ZM819 420h3V422.4h-3Z" fill="#ef5350"/>
<path d="M822 418.4h3V422.5h-3Z" fill="#26a69a"/>
<path d="M824 418.4h3V422.8h-3ZM827 422.5h3V432h-3ZM829 431.5h3V434.8h-3ZM831 434h3V440.8h-3ZM834 440.5h3V449.9h-3ZM836 450.3h3V471.4h-3Z" fill="#ef5350"/>
<path d="M839 466.5h3V471.4h-3ZM841 456.4h3V466.5h-3Z" fill="#26a69a"/>
<path d="M844 457.1h3V469.5h-3ZM846 469h3V476.3h-3ZM849 476.3h3V479.6h-3ZM851 479.3h3V483.6h-3Z" fill="#ef5350"/>
<path d="M854 480.4h3V482.8h-3Z" fill="#26a69a"/>
<path d="M856 481.2h3V490.2h-3ZM859 489.7h3V492.3h-3Z" fill="#ef5350"/>
<path d="M861 483.3h3V491h-3ZM864 478.8h3V483.2h-3Z" fill="#26a69a"/>
<path d="M866 478.3h3V480.4h-3ZM869 480.4h3V485.3h-3ZM871 484.1h3V485.8h-3Z" fill="#ef5350"/>
<path d="M873 483.6h3V485.3h-3Z" fill="#26a69a"/>
<path d="M876 484.1h3V486.1h-3ZM878 484.5h3V487.4h-3ZM881 487.2h3V497.5h-3ZM884 498.3h3V512.5h-3ZM886 513h3V521.1h-3ZM889 521.1h3V542.9h-3Z" fill="#ef5350"/>
<path d="M892 531.7h3V540.2h-3ZM894 531.7h3V532.7h-3ZM896 519.2h3V531.7h-3ZM898 510.5h3V518.7h-3ZM901 508h3V510.8h-3ZM903 471.4h3V506.4h-3ZM906 458.4h3V468.7h-3ZM908 421.3h3V456.4h-3ZM911 402.3h3V412.3h-3ZM913 400.7h3V406.4h-3ZM916 391.7h3V399h-3Z" fill="#26a69a"/>
<path d="M918 392.3h3V397.6h-3ZM921 397.3h3V406.4h-3Z" fill="#ef5350"/>
<path d="M924 403.8h3V406.3h-3ZM926 402.2h3V404.4h-3Z" fill="#26a69a"/>
<path d="M928 403.3h3V418.6h-3Z" fill="#ef5350"/>
<path d="M931 408.4h3V416.4h-3ZM933 405h3V408h-3Z" fill="#26a69a"/>
<path d="M936 405.5h3V407.3h-3Z" fill="#ef5350"/>
<path d="M938 404.5h3V406.4h-3Z" fill="#26a69a"/>
<path d="M941 404.2h3V406.4h-3ZM943 405.8h3V408.3h-3Z" fill="#ef5350"/>
<path d="M946 405.7h3V407.4h-3ZM948 401.3h3V406.4h-3ZM951 397.5h3V400.7h-3ZM954 396.7h3V398.3h-3Z" fill="#26a69a"/>
<path d="M956 397.5h3V399.1h-3ZM958 398.3h3V402.4h-3ZM960 401.6h3V405.6h-3ZM963 404h3V410.8h-3ZM965 410.8h3V426.5h-3Z" fill="#ef5350"/>
<path d="M968 421.1h3V426.5h-3ZM970 405.1h3V421.1h-3ZM973 368.2h3V403.7h-3ZM975 352.7h3V362.5h-3Z" fill="#26a69a"/>
<path d="M978 354h3V357.6h-3Z" fill="#ef5350"/>
<path d="M980 331.2h3V353.5h-3Z" fill="#26a69a"/>
<path d="M983 329.1h3V332.7h-3ZM985 330.7h3V338.5h-3Z" fill="#ef5350"/>
<path d="M988 334h3V337.6h-3ZM990 304.3h3V331.5h-3Z" fill="#26a69a"/>
</g>
</g>
<g clip-path="url(#p2)">
<rect x="0" y="850.5" width="1144" height="66" fill="rgba(156,39,176,0.12)"/>
<line x1="0" y1="850.5" x2="1144" y2="850.5" stroke="#6e6e78" stroke-width="1" stroke-dasharray="6 5"/>
<line x1="0" y1="916.5" x2="1144" y2="916.5" stroke="#6e6e78" stroke-width="1" stroke-dasharray="6 5"/>
<polyline points="1,914.1 6.3,895.6 10.8,908.3 13.7,913.6 16.6,910.6 20,912 24.4,911.2 26.4,896.6 29.3,893.2 31.9,889.3 34.6,890.3 37.1,898.1 39.7,898.9 43.4,917.1 48.5,927.4 53.4,916.5 58.3,886.8 63.1,894.2 68.4,884.4 71.4,882.5 75.3,889.7 78.6,893.2 82.1,887.2 86,888.3 88.4,879.5 92.9,875 95.8,867.2 99.3,850.6 101.7,845.7 106.5,841.8 110.5,838.5 114.4,850.2 117.3,846.7 120.2,838.3 123.2,838.3 125.5,848.1 130.6,838.3 134.9,838.3 138.2,836.5 140.4,845.3 145.6,838.5 148.6,846.3 150.1,846.7 153.5,835.9 155.8,833.4 158.4,835.4 163.2,825.8 166.2,824.8 171.7,820.3 175.6,816.4 177.5,819.3 181.8,816.4 184.8,816 187.7,813.5 192.3,811.5 195.3,813.5 197.8,848.7 200.8,862.3 203.1,855.5 205.6,851.6 208,853.5 210.1,852.6 212.9,860 215.4,860.4 217.4,858.4 220.3,875 222.6,884.4 225.6,876.6 227.5,880.5 232.4,901.4 235.4,898.5 237.9,908.3 239.3,909.3 242.4,894.6 244.7,893.2 247.3,893.2 249.6,887.8 252.6,875.4 255.5,873.5 259.4,870.5 261.7,878 264.3,884.4 267.2,883.5 269.8,899.1 272.1,904.4 274.5,887.4 277,888.3 279.3,887.8 282.3,883.5 284.8,888.7 289.7,904.4 292.2,904.4 294.2,899.9 296.9,905.3 299.5,914.5 304.4,898.5 309.3,875.6 311.6,878.6 314.1,877.4 317.1,872.1 319.4,870.5 322,877.4 323.9,876.6 326.5,886.2 329.2,889.3 331.2,888.3 334.7,898.1 336.6,896 339.6,887.2 342.1,888.7 344.4,892.2 346.4,902 349.3,901.4 352.3,903.4 354.8,906.7 357.2,911.2 359.1,912.2 361.7,906.3 366,908.3 369.5,900.5 371.4,903.4 374.8,915.1 376.7,919 378.7,921.4 381,919.5 383.5,910.7 386.5,915.1 388.8,907.3 391.1,898.5 393.3,876 396,866.8 398.2,867.2 400.9,862.9 403.1,862.3 406,863.7 408.3,874.1 411.3,874.7 413.6,877.6 416.6,883.5 421.4,883.8 423.6,896.5 426.5,899.1 431.2,898.5 435.7,908.9 438.1,911.6 440.6,922.4 443,920 445.5,917.1 450.8,931.7 453.5,936.2 456.2,917.1 460.2,891.1 463.1,886.4 465.4,883.5 468,883.5 470.3,882.5 472.9,890.7 475.2,895.2 480.7,889.3 483,890.3 485.6,894.2 488.5,889.3 491,889.3 493.4,890.7 495.3,894.2 502.2,884.4 507.5,890.7 511,888.7 512.9,889.7 515.3,878 517.8,860.4 520.4,851.2 522.7,856.1 525.3,852 527.6,864.3 530.5,863.3 533.1,863.3 535.8,861.9 538,857.5 542.3,840.8 547.5,833.4 550.5,837.3 555,827.5 556.9,826.2 559.9,826.6 562.4,834 565.1,837.3 567.1,833.4 569.2,832.4 572.1,858.2 575.7,853 578.8,848.5 581.7,841.8 584.7,839.3 587.6,840.4 589.6,845.1 592.1,845.3 594.4,840.4 597.4,841.4 602.3,841.4 609.7,832.4 612.6,845.7 614.4,846.7 618.9,834.6 622.4,839.3 627.7,831.4 631.6,853.1 633.9,852.6 636.5,869.2 639.4,870.2 641.4,866.6 644.3,873.1 646.6,884.8 649.8,882.9 651.7,880.5 654.5,880.5 656.6,895.6 659.5,895.6 661.9,891.3 664.4,892.2 666.8,881.9 669.3,864.3 671.3,862.3 673.6,867.2 676.6,879.3 678.9,880.3 681,879.3 685.3,886.4 688.9,894.6 691.6,904.4 694.1,903 696.7,894.2 699,896.2 702,901.4 705.9,897.9 708.4,893.6 711.3,899.1 713.7,902 716.6,907.3 718.6,909.3 721.1,903.4 723.9,909.3 726.4,913.2 728.4,914.5 733.2,909.3 736.2,914.1 738.5,925.3 741.5,925.3 743.6,919.4 746,920 748.3,927.4 750.8,922.9 753.8,919 756.1,912.2 758.7,899.5 761.6,896.4 763.4,899.3 765.4,882.5 768.3,885.2 770.8,885.8 773.3,888.7 780.5,908.9 783.5,912.2 790.3,886.4 793.6,891.3 795.2,890.3 800.1,895.2 804,904.4 807.9,904.4 812.8,913.6 815.7,922.6 820.6,926.3 823.1,920.6 825.5,922.6 830.4,929.8 834.9,935.7 837.4,943.1 839.8,936.6 842.5,922 846,928.2 848.4,929.4 850.9,930.4 852.9,932.3 855.4,928.4 857.8,932.7 860.3,933.3 862.2,922.4 865.6,914.1 868.5,916.1 871,918.4 873.4,918.1 875.3,916.5 877.3,918.4 880.2,918.6 885.1,933.3 890.6,942.1 892.6,938.6 896.9,913.2 899.4,902.4 902.1,899.5 904.7,871.1 907,864.7 909.6,849.2 912.5,845.3 917.4,840.4 922.3,852.6 927.2,851.6 929.7,865.3 932,861.4 934.6,859.4 936.9,859.4 939.5,858.4 944.4,862.7 949.2,857.4 953.2,856.5 957,856.9 960.8,863.3 964.3,872.1 966.2,889.3 969.2,884.8 971.9,867.2 974.4,850.2 976.4,844.7 979.3,846.1 981.7,838.3 984.6,838.5 986.8,845.3 989.5,844.2 991.6,834" fill="none" stroke="rgba(156,39,176,0.8)" stroke-width="1" stroke-linejoin="round"/>
<line x1="192" y1="812.7" x2="1125.5" y2="845.6" stroke="#000" stroke-width="2.0"/>
</g>
<g shape-rendering="crispEdges" fill="#50535e">
<rect x="1145" y="39" width="1" height="943"/>
<rect x="0" y="794" width="1223" height="1"/>
<rect x="0" y="957" width="1223" height="1"/>
<rect x="1146" y="54" width="4" height="1"/>
<rect x="1146" y="87" width="4" height="1"/>
<rect x="1146" y="119" width="4" height="1"/>
<rect x="1146" y="152" width="4" height="1"/>
<rect x="1146" y="185" width="4" height="1"/>
<rect x="1146" y="217" width="4" height="1"/>
<rect x="1146" y="250" width="4" height="1"/>
<rect x="1146" y="282" width="4" height="1"/>
<rect x="1146" y="315" width="4" height="1"/>
<rect x="1146" y="348" width="4" height="1"/>
<rect x="1146" y="380" width="4" height="1"/>
<rect x="1146" y="413" width="4" height="1"/>
<rect x="1146" y="445" width="4" height="1"/>
<rect x="1146" y="478" width="4" height="1"/>
<rect x="1146" y="511" width="4" height="1"/>
<rect x="1146" y="543" width="4" height="1"/>
<rect x="1146" y="576" width="4" height="1"/>
<rect x="1146" y="608" width="4" height="1"/>
<rect x="1146" y="641" width="4" height="1"/>
<rect x="1146" y="673" width="4" height="1"/>
<rect x="1146" y="706" width="4" height="1"/>
<rect x="1146" y="739" width="4" height="1"/>
<rect x="1146" y="771" width="4" height="1"/>
<rect x="1146" y="800" width="4" height="1"/>
<rect x="1146" y="833" width="4" height="1"/>
<rect x="1146" y="866" width="4" height="1"/>
<rect x="1146" y="899" width="4" height="1"/>
<rect x="1146" y="932" width="4" height="1"/>
<rect x="10" y="958" width="1" height="3"/>
<rect x="114" y="958" width="1" height="3"/>
<rect x="203" y="958" width="1" height="3"/>
<rect x="303" y="958" width="1" height="3"/>
<rect x="409" y="958" width="1" height="3"/>
<rect x="513" y="958" width="1" height="3"/>
<rect x="603" y="958" width="1" height="3"/>
<rect x="702" y="958" width="1" height="3"/>
<rect x="804" y="958" width="1" height="3"/>
<rect x="900" y="958" width="1" height="3"/>
<rect x="1007" y="958" width="1" height="3"/>
<rect x="1114" y="958" width="1" height="3"/>
</g>
<g font-family="'Liberation Sans',sans-serif" font-size="12.3" fill="#50535e">
<text x="1154.5" y="58.9" textLength="61" lengthAdjust="spacingAndGlyphs">1840000.00</text>
<text x="1154.5" y="91.9" textLength="61" lengthAdjust="spacingAndGlyphs">1800000.00</text>
<text x="1154.5" y="123.9" textLength="61" lengthAdjust="spacingAndGlyphs">1760000.00</text>
<text x="1154.5" y="156.9" textLength="61" lengthAdjust="spacingAndGlyphs">1720000.00</text>
<text x="1154.5" y="189.9" textLength="61" lengthAdjust="spacingAndGlyphs">1680000.00</text>
<text x="1154.5" y="221.9" textLength="61" lengthAdjust="spacingAndGlyphs">1640000.00</text>
<text x="1154.5" y="254.9" textLength="61" lengthAdjust="spacingAndGlyphs">1600000.00</text>
<text x="1154.5" y="286.9" textLength="61" lengthAdjust="spacingAndGlyphs">1560000.00</text>
<text x="1154.5" y="319.9" textLength="61" lengthAdjust="spacingAndGlyphs">1520000.00</text>
<text x="1154.5" y="352.9" textLength="61" lengthAdjust="spacingAndGlyphs">1480000.00</text>
<text x="1154.5" y="384.9" textLength="61" lengthAdjust="spacingAndGlyphs">1440000.00</text>
<text x="1154.5" y="417.9" textLength="61" lengthAdjust="spacingAndGlyphs">1400000.00</text>
<text x="1154.5" y="449.9" textLength="61" lengthAdjust="spacingAndGlyphs">1360000.00</text>
<text x="1154.5" y="482.9" textLength="61" lengthAdjust="spacingAndGlyphs">1320000.00</text>
<text x="1154.5" y="515.9" textLength="61" lengthAdjust="spacingAndGlyphs">1280000.00</text>
<text x="1154.5" y="547.9" textLength="61" lengthAdjust="spacingAndGlyphs">1240000.00</text>
<text x="1154.5" y="580.9" textLength="61" lengthAdjust="spacingAndGlyphs">1200000.00</text>
<text x="1154.5" y="612.9" textLength="61" lengthAdjust="spacingAndGlyphs">1160000.00</text>
<text x="1154.5" y="645.9" textLength="61" lengthAdjust="spacingAndGlyphs">1120000.00</text>
<text x="1154.5" y="677.9" textLength="61" lengthAdjust="spacingAndGlyphs">1080000.00</text>
<text x="1154.5" y="710.9" textLength="61" lengthAdjust="spacingAndGlyphs">1040000.00</text>
<text x="1154.5" y="743.9" textLength="61" lengthAdjust="spacingAndGlyphs">1000000.00</text>
<text x="1154.5" y="775.9" textLength="54.6" lengthAdjust="spacingAndGlyphs">960000.00</text>
<text x="1154.5" y="804.9" textLength="48.3" lengthAdjust="spacingAndGlyphs">100.0000</text>
<text x="1154.5" y="837.9" textLength="41.8" lengthAdjust="spacingAndGlyphs">80.0000</text>
<text x="1154.5" y="870.9" textLength="41.8" lengthAdjust="spacingAndGlyphs">60.0000</text>
<text x="1154.5" y="903.9" textLength="41.8" lengthAdjust="spacingAndGlyphs">40.0000</text>
<text x="1154.5" y="936.9" textLength="41.8" lengthAdjust="spacingAndGlyphs">20.0000</text>
</g>
<rect x="1145" y="236" width="78" height="18" fill="#ff0000" shape-rendering="crispEdges"/>
<rect x="1145" y="245" width="4" height="1" fill="#fff" shape-rendering="crispEdges"/>
<text x="1154.5" y="248.9" font-family="'Liberation Sans',sans-serif" font-size="12.3" fill="#fff" stroke="#fff" stroke-width="0.3" textLength="61" lengthAdjust="spacingAndGlyphs">1606161.50</text>
<rect x="1145" y="261" width="78" height="18" fill="#ff0000" shape-rendering="crispEdges"/>
<rect x="1145" y="270" width="4" height="1" fill="#fff" shape-rendering="crispEdges"/>
<text x="1154.5" y="273.9" font-family="'Liberation Sans',sans-serif" font-size="12.3" fill="#fff" stroke="#fff" stroke-width="0.3" textLength="61" lengthAdjust="spacingAndGlyphs">1574638.96</text>
<rect x="1145" y="295" width="78" height="18" fill="#26a69a" shape-rendering="crispEdges"/>
<rect x="1145" y="304" width="4" height="1" fill="#fff" shape-rendering="crispEdges"/>
<text x="1154.5" y="307.9" font-family="'Liberation Sans',sans-serif" font-size="12.3" fill="#fff" stroke="#fff" stroke-width="0.3" textLength="61" lengthAdjust="spacingAndGlyphs">1533395.94</text>
<g font-family="'Liberation Sans',sans-serif" font-size="11.6" fill="#50535e" text-anchor="middle">
<text x="10.4" y="977">May</text>
<text x="114.6" y="977">Jul</text>
<text x="203.5" y="977">Sep</text>
<text x="303.6" y="977">Nov</text>
<text x="409.5" y="977" font-size="12.4" stroke="#50535e" stroke-width="0.45" textLength="27.4" lengthAdjust="spacingAndGlyphs">2022</text>
<text x="513.5" y="977">Mar</text>
<text x="603.4" y="977">May</text>
<text x="702.6" y="977">Jul</text>
<text x="804.4" y="977">Sep</text>
<text x="900.4" y="977">Nov</text>
<text x="1007.5" y="977" font-size="12.4" stroke="#50535e" stroke-width="0.45" textLength="27.4" lengthAdjust="spacingAndGlyphs">2023</text>
<text x="1114.6" y="977">Mar</text>
</g>

</svg>
<div class="toolbar">
  <span class="lbl" style="left:14px;font-size:14.5px">D</span>
  <div class="sep" style="left:37px"></div>
  <div class="sep" style="left:76px"></div>
  <span class="lbl" style="left:112px;letter-spacing:-0.37px">Compare</span>
  <div class="sep" style="left:177px"></div>
  <span class="lbl" style="left:213.5px;letter-spacing:0.08px">Indicators</span>
  <div class="sep" style="left:285px"></div>
  <span class="lbl" style="left:321px">Templates</span>
  <div class="sep" style="left:395px"></div>
  <div class="sep" style="left:458px"></div>
  <div class="sep" style="left:496px"></div>
  <div class="sep" style="left:534px"></div>
  <div class="sep" style="left:1068px"></div>
  <div class="sep" style="left:1107px"></div>
  <div class="sep" style="left:1145px"></div>
  <div class="sep" style="left:1183px"></div>
</div>
<div class="legend">
  <span style="left:10.5px;top:5.5px;font-size:15px;line-height:20px;color:#131722;font-family:'DejaVu Sans',sans-serif;-webkit-text-stroke:0.35px #131722" dir="rtl" lang="fa">کل بورس</span>
  <span style="left:83.6px;top:7.2px;font-size:15px;line-height:17px;color:#131722">D</span>
  <span style="left:76.5px;top:7px;font-size:13px;line-height:15px;color:#c9ccd4">·</span>
  <span style="left:104px;top:8px;font-size:13px;line-height:15px;color:#50535e">O<span class="v">1500759.28</span></span>
  <span style="left:189.5px;top:8px;font-size:13px;line-height:15px;color:#50535e">H<span class="v">1532709.70</span></span>
  <span style="left:274px;top:8px;font-size:13px;line-height:15px;color:#50535e">L<span class="v">1500759.28</span></span>
  <span style="left:355.5px;top:8px;font-size:13px;line-height:15px;color:#50535e">C<span class="v">1533395.94</span></span>
  <span style="left:440px;top:8px;font-size:13px;line-height:15px;color:#26a69a;letter-spacing:-0.3px;-webkit-text-stroke:0.15px #26a69a">+37195.19</span>
  <span style="left:504px;top:8px;font-size:13px;line-height:15px;color:#26a69a;letter-spacing:0.15px;-webkit-text-stroke:0.15px #26a69a">(+2.49%)</span>
</div>
<div class="btn" style="left:8px;top:71px;width:34px;height:21px;"><span style="position:absolute;left:19.5px;top:2.5px;font-size:12.5px;line-height:15px;color:#131722">2</span></div>
<div class="btn" style="left:8px;top:801px;width:21px;height:21px;"></div>

<svg class="icons" width="1223" height="982" viewBox="0 0 1223 982" style="position:absolute;left:0;top:0;z-index:3;pointer-events:none">
<g fill="none" stroke="#131722" stroke-width="1.15" stroke-linecap="round" stroke-linejoin="round">
  <!-- candles -->
  <path d="M51.5 12.5h4v13h-4zM53.5 9v3.5M53.5 25.5V29M59.5 15.5h4v7h-4zM61.5 12v3.5M61.5 22.5V26" stroke-linecap="butt" stroke-linejoin="miter"/>
  <!-- compare -->
  <circle cx="95.5" cy="19.5" r="9"/>
  <path d="M91 19.5h9M95.5 15v9" stroke-linecap="butt"/>
  <!-- indicators -->
  <path d="M186.3 18.7L191 13.7Q192.2 12.6 193.4 13.7L197.5 18Q198.7 19.1 199.9 18L204.7 13.3"/>
  <path d="M199 25.5h9M203.5 21v9" stroke-linecap="butt"/>
  <!-- templates -->
  <path d="M295.3 15.4L300.2 10.3Q301.4 9.2 302.6 10.3L306.2 14.1Q307.4 15.2 308.6 14.1L313.8 9.2"/>
  <path d="M295.3 20.6L300.2 15.5Q301.4 14.4 302.6 15.5L306.2 19.3Q307.4 20.4 308.6 19.3L313.8 14.4"/>
  <path d="M295.5 28v1M298.5 25.5V29M301.5 23v6M304.5 25v4M307 25.5h9M311.5 21v9" stroke-linecap="butt"/>
  <!-- undo -->
  <path d="M409.7 14.1L406.3 17.4L409.7 20.7M406.3 17.4H414Q418.6 17.6 418.6 23.6" stroke-width="1.3"/>
  <!-- redo -->
  <path d="M443.2 14.1L446.7 17.4L443.2 20.7M446.7 17.4H439Q434.4 17.6 434.4 23.6" stroke="#c5c8d0" stroke-width="1.2"/>
  <!-- eye -->
  <path d="M504 18.3Q509.5 12 515.5 12Q521.5 12 527 18.3Q521.5 24.8 515.5 24.8Q509.5 24.8 504 18.3Z"/>
  <circle cx="515.5" cy="18.3" r="3.2"/>
  <path d="M523.8 10L507.1 26.9"/>
  <!-- gear -->
  <path d="M1085.78 11.83 L1086.07 9.49 L1089.93 9.49 L1090.22 11.83 L1091.50 12.37 L1093.36 10.92 L1096.08 13.64 L1094.63 15.50 L1095.17 16.78 L1097.51 17.07 L1097.51 20.93 L1095.17 21.22 L1094.63 22.50 L1096.08 24.36 L1093.36 27.08 L1091.50 25.63 L1090.22 26.17 L1089.93 28.51 L1086.07 28.51 L1085.78 26.17 L1084.50 25.63 L1082.64 27.08 L1079.92 24.36 L1081.37 22.50 L1080.83 21.22 L1078.49 20.93 L1078.49 17.07 L1080.83 16.78 L1081.37 15.50 L1079.92 13.64 L1082.64 10.92 L1084.50 12.37Z" stroke-width="1.3"/>
  <circle cx="1088" cy="19" r="2.6" stroke-width="1.3"/>
  <!-- share -->
  <g stroke="#4a4e5c" stroke-width="1.05">
  <circle cx="1123.4" cy="19" r="2.6"/><circle cx="1134.3" cy="13" r="2.6"/><circle cx="1134.3" cy="25.1" r="2.6"/>
  <path d="M1125.7 17.7L1132 14.3M1125.7 20.3L1132 23.8"/>
  </g>
  <!-- notes -->
  <path d="M1161.6 14.5L1159.4 13.5L1158.4 25.6L1162.3 26.6" stroke-width="1"/>
  <path d="M1161.6 14.5L1174.7 13.5L1175.7 25.6L1162.3 26.6Z" stroke-width="1" fill="#fff"/>
  <path d="M1170.8 13.4L1168.8 15.4" stroke-width="1"/>
  <circle cx="1171.9" cy="12.3" r="1.6" stroke-width="1" fill="#fff"/>
  <!-- chevrons -->
  <path d="M16.8 78.1L20.1 81.4L16.8 84.7" stroke-width="1.3"/>
  <path d="M16.6 808.2L19.9 811.5L16.6 814.8" stroke-width="1.3"/>
</g>
<g fill="#4a4e5c">
  <!-- fullscreen -->
  <path d="M467.8 8.9h5.9l-5.9 6z M486.2 8.9h-5.9l5.9 6z M467.8 27h5.9l-5.9 -6z M486.2 27h-5.9l5.9 -6z"/>
  <path d="M469.8 11L474 15.2 M484.2 11L480 15.2 M469.8 24.9L474 20.7 M484.2 24.9L480 20.7" stroke="#4a4e5c" stroke-width="2.4" fill="none"/>
  <!-- trash -->
  <rect x="1199" y="14.1" width="10.8" height="11.8"/>
  <rect x="1198" y="10.9" width="12.9" height="2"/>
  <rect x="1201.2" y="10" width="6.5" height="1.2"/>
</g>
<circle cx="1184.4" cy="971.4" r="4.5" fill="none" stroke="#131722" stroke-width="1.2"/><path d="M1189.20 971.40L1191.60 971.40M1187.79 974.79L1189.07 976.07M1184.40 976.20L1184.40 978.60M1181.01 974.79L1179.73 976.07M1179.60 971.40L1177.20 971.40M1181.01 968.01L1179.73 966.73M1184.40 966.60L1184.40 964.20M1187.79 968.01L1189.07 966.73" stroke="#131722" stroke-width="1.2" fill="none"/>
<!-- logo -->
<circle cx="24.6" cy="927" r="16.6" fill="#fff" stroke="#e6e6e6" stroke-width="1"/>
<path d="M15.6 932.9Q13.9 932.9 13.9 931V926.6Q14.2 924.6 17.6 924.1Q17.9 921.1 20.6 920.1Q23.9 919.2 26.2 921.6Q27 922.6 27.8 923.6Q30.6 923 32 924.6Q35.2 927.4 35.2 929.6V931Q35.2 932.9 33.4 932.9Z" fill="#3aa0ea"/>
<path d="M14.4 930.9L21.8 924.8L27 929.9L32.6 924.3" fill="none" stroke="#fff" stroke-width="1.5" stroke-linejoin="round"/>
<circle cx="21.8" cy="924.8" r="1.5" fill="#fff"/><circle cx="27" cy="929.9" r="1.5" fill="#fff"/>
</svg>

</body>
</html>
